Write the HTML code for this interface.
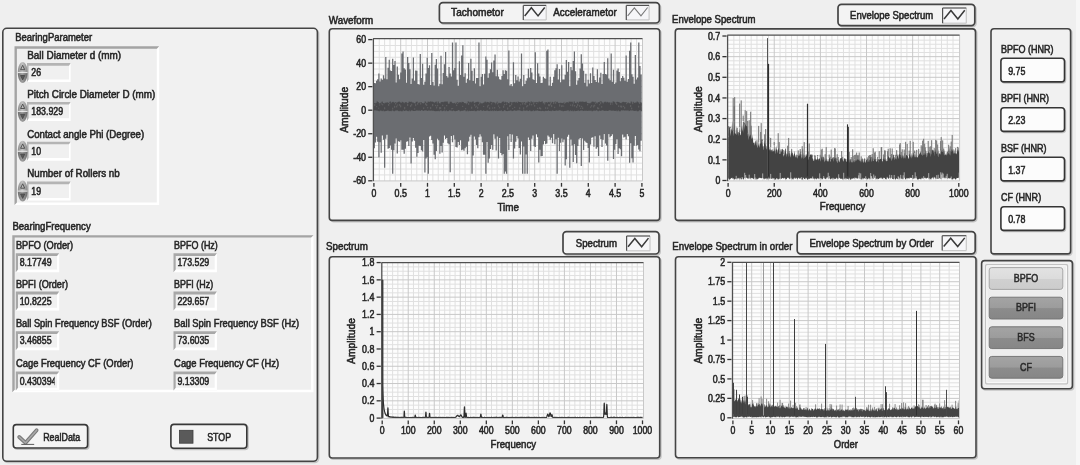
<!DOCTYPE html>
<html><head><meta charset="utf-8"><title>Bearing Analysis</title><style>html,body{margin:0;padding:0;background:#efefef;overflow:hidden;}svg{display:block;will-change:transform;font-family:"Liberation Sans",sans-serif;}</style></head><body>
<svg width="1080" height="465" viewBox="0 0 1080 465" font-family="Liberation Sans, sans-serif">
<rect x="0.00" y="0.00" width="1080.00" height="465.00" rx="0" fill="#efefef" />
<defs><linearGradient id="spu" x1="0" y1="0" x2="1" y2="0"><stop offset="0" stop-color="#8c8c8c"/><stop offset="0.45" stop-color="#c4c4c4"/><stop offset="1" stop-color="#8a8a8a"/></linearGradient><linearGradient id="spd" x1="0" y1="0" x2="1" y2="0"><stop offset="0" stop-color="#6e6e6e"/><stop offset="0.45" stop-color="#a0a0a0"/><stop offset="1" stop-color="#6a6a6a"/></linearGradient></defs>
<rect x="4.00" y="29.50" width="314.60" height="433.00" rx="4" fill="none" stroke="rgba(0,0,0,0.18)" stroke-width="1.6" />
<rect x="2.80" y="28.30" width="314.60" height="433.00" rx="4" fill="#f1f1f1" stroke="#444444" stroke-width="1.6" />
<text x="15.20" y="40.50" font-size="10.5" textLength="77.00" lengthAdjust="spacingAndGlyphs" fill="#262626" stroke="#262626" stroke-width="0.55" >BearingParameter</text>
<rect x="14.50" y="46.30" width="144.70" height="158.70" rx="0" fill="#efefef" />
<path d="M159.20,46.30 L159.20,205.00 L14.50,205.00 L16.90,202.60 L156.80,202.60 L156.80,48.70 Z" fill="#ffffff"/>
<path d="M14.50,205.00 L14.50,46.30 L159.20,46.30 L156.80,48.70 L16.90,48.70 L16.90,202.60 Z" fill="#a4a4a4"/>
<text x="27.20" y="58.90" font-size="10.5" textLength="94.00" lengthAdjust="spacingAndGlyphs" fill="#262626" stroke="#262626" stroke-width="0.55" >Ball Diameter d (mm)</text>
<rect x="27.00" y="63.10" width="43.60" height="19.00" rx="0" fill="#f0f0f0" />
<path d="M70.60,63.10 L70.60,82.10 L27.00,82.10 L28.60,79.50 L69.00,79.50 L69.00,65.70 Z" fill="#ffffff"/>
<path d="M27.00,82.10 L27.00,63.10 L70.60,63.10 L69.00,65.70 L28.60,65.70 L28.60,79.50 Z" fill="#b4b4b4"/>
<g transform="translate(17.8,62.10)"><path d="M0,10.3 C0,4.5 2.2,0 4.85,0 C7.5,0 9.7,4.5 9.7,10.3 Z" fill="url(#spu)"/><path d="M0,10.7 C0,16.5 2.2,21 4.85,21 C7.5,21 9.7,16.5 9.7,10.7 Z" fill="url(#spd)"/><path d="M4.85,3.2 L6.9,7.6 L2.8,7.6 Z" fill="none" stroke="#4a4a4a" stroke-width="0.9"/><path d="M4.85,17.8 L6.9,13.4 L2.8,13.4 Z" fill="#5a5a5a" stroke="#4a4a4a" stroke-width="0.9"/><line x1="0" y1="10.5" x2="9.7" y2="10.5" stroke="#f8f8f8" stroke-width="0.8"/></g>
<text x="31.30" y="76.40" font-size="10.5" textLength="9.75" lengthAdjust="spacingAndGlyphs" fill="#262626" stroke="#262626" stroke-width="0.55" >26</text>
<text x="27.20" y="97.70" font-size="10.5" textLength="128.00" lengthAdjust="spacingAndGlyphs" fill="#262626" stroke="#262626" stroke-width="0.55" >Pitch Circle Diameter D (mm)</text>
<rect x="27.00" y="101.90" width="43.60" height="19.00" rx="0" fill="#f0f0f0" />
<path d="M70.60,101.90 L70.60,120.90 L27.00,120.90 L28.60,118.30 L69.00,118.30 L69.00,104.50 Z" fill="#ffffff"/>
<path d="M27.00,120.90 L27.00,101.90 L70.60,101.90 L69.00,104.50 L28.60,104.50 L28.60,118.30 Z" fill="#b4b4b4"/>
<g transform="translate(17.8,100.90)"><path d="M0,10.3 C0,4.5 2.2,0 4.85,0 C7.5,0 9.7,4.5 9.7,10.3 Z" fill="url(#spu)"/><path d="M0,10.7 C0,16.5 2.2,21 4.85,21 C7.5,21 9.7,16.5 9.7,10.7 Z" fill="url(#spd)"/><path d="M4.85,3.2 L6.9,7.6 L2.8,7.6 Z" fill="none" stroke="#4a4a4a" stroke-width="0.9"/><path d="M4.85,17.8 L6.9,13.4 L2.8,13.4 Z" fill="#5a5a5a" stroke="#4a4a4a" stroke-width="0.9"/><line x1="0" y1="10.5" x2="9.7" y2="10.5" stroke="#f8f8f8" stroke-width="0.8"/></g>
<text x="31.30" y="115.20" font-size="10.5" textLength="31.88" lengthAdjust="spacingAndGlyphs" fill="#262626" stroke="#262626" stroke-width="0.55" >183.929</text>
<text x="27.20" y="137.50" font-size="10.5" textLength="117.00" lengthAdjust="spacingAndGlyphs" fill="#262626" stroke="#262626" stroke-width="0.55" >Contact angle Phi (Degree)</text>
<rect x="27.00" y="141.70" width="43.60" height="19.00" rx="0" fill="#f0f0f0" />
<path d="M70.60,141.70 L70.60,160.70 L27.00,160.70 L28.60,158.10 L69.00,158.10 L69.00,144.30 Z" fill="#ffffff"/>
<path d="M27.00,160.70 L27.00,141.70 L70.60,141.70 L69.00,144.30 L28.60,144.30 L28.60,158.10 Z" fill="#b4b4b4"/>
<g transform="translate(17.8,140.70)"><path d="M0,10.3 C0,4.5 2.2,0 4.85,0 C7.5,0 9.7,4.5 9.7,10.3 Z" fill="url(#spu)"/><path d="M0,10.7 C0,16.5 2.2,21 4.85,21 C7.5,21 9.7,16.5 9.7,10.7 Z" fill="url(#spd)"/><path d="M4.85,3.2 L6.9,7.6 L2.8,7.6 Z" fill="none" stroke="#4a4a4a" stroke-width="0.9"/><path d="M4.85,17.8 L6.9,13.4 L2.8,13.4 Z" fill="#5a5a5a" stroke="#4a4a4a" stroke-width="0.9"/><line x1="0" y1="10.5" x2="9.7" y2="10.5" stroke="#f8f8f8" stroke-width="0.8"/></g>
<text x="31.30" y="155.00" font-size="10.5" textLength="9.75" lengthAdjust="spacingAndGlyphs" fill="#262626" stroke="#262626" stroke-width="0.55" >10</text>
<text x="27.20" y="177.40" font-size="10.5" textLength="92.50" lengthAdjust="spacingAndGlyphs" fill="#262626" stroke="#262626" stroke-width="0.55" >Number of Rollers nb</text>
<rect x="27.00" y="181.60" width="43.60" height="19.00" rx="0" fill="#f0f0f0" />
<path d="M70.60,181.60 L70.60,200.60 L27.00,200.60 L28.60,198.00 L69.00,198.00 L69.00,184.20 Z" fill="#ffffff"/>
<path d="M27.00,200.60 L27.00,181.60 L70.60,181.60 L69.00,184.20 L28.60,184.20 L28.60,198.00 Z" fill="#b4b4b4"/>
<g transform="translate(17.8,180.60)"><path d="M0,10.3 C0,4.5 2.2,0 4.85,0 C7.5,0 9.7,4.5 9.7,10.3 Z" fill="url(#spu)"/><path d="M0,10.7 C0,16.5 2.2,21 4.85,21 C7.5,21 9.7,16.5 9.7,10.7 Z" fill="url(#spd)"/><path d="M4.85,3.2 L6.9,7.6 L2.8,7.6 Z" fill="none" stroke="#4a4a4a" stroke-width="0.9"/><path d="M4.85,17.8 L6.9,13.4 L2.8,13.4 Z" fill="#5a5a5a" stroke="#4a4a4a" stroke-width="0.9"/><line x1="0" y1="10.5" x2="9.7" y2="10.5" stroke="#f8f8f8" stroke-width="0.8"/></g>
<text x="31.30" y="194.90" font-size="10.5" textLength="9.75" lengthAdjust="spacingAndGlyphs" fill="#262626" stroke="#262626" stroke-width="0.55" >19</text>
<text x="12.40" y="229.60" font-size="10.5" textLength="78.30" lengthAdjust="spacingAndGlyphs" fill="#262626" stroke="#262626" stroke-width="0.55" >BearingFrequency</text>
<rect x="12.30" y="235.20" width="301.20" height="157.00" rx="0" fill="#efefef" />
<path d="M313.50,235.20 L313.50,392.20 L12.30,392.20 L14.70,389.80 L311.10,389.80 L311.10,237.60 Z" fill="#ffffff"/>
<path d="M12.30,392.20 L12.30,235.20 L313.50,235.20 L311.10,237.60 L14.70,237.60 L14.70,389.80 Z" fill="#a4a4a4"/>
<text x="15.90" y="249.10" font-size="10.5" textLength="57.30" lengthAdjust="spacingAndGlyphs" fill="#262626" stroke="#262626" stroke-width="0.55" >BPFO (Order)</text>
<text x="174.10" y="249.10" font-size="10.5" textLength="43.70" lengthAdjust="spacingAndGlyphs" fill="#262626" stroke="#262626" stroke-width="0.55" >BPFO (Hz)</text>
<rect x="15.80" y="253.20" width="43.40" height="19.00" rx="0" fill="#f1f1f1" />
<path d="M59.20,253.20 L59.20,272.20 L15.80,272.20 L18.00,269.40 L57.00,269.40 L57.00,256.00 Z" fill="#ffffff"/>
<path d="M15.80,272.20 L15.80,253.20 L59.20,253.20 L57.00,256.00 L18.00,256.00 L18.00,269.40 Z" fill="#a8a8a8"/>
<text x="19.70" y="266.20" font-size="10.5" textLength="31.88" lengthAdjust="spacingAndGlyphs" fill="#262626" stroke="#262626" stroke-width="0.55" >8.17749</text>
<rect x="173.50" y="253.20" width="43.40" height="19.00" rx="0" fill="#f1f1f1" />
<path d="M216.90,253.20 L216.90,272.20 L173.50,272.20 L175.70,269.40 L214.70,269.40 L214.70,256.00 Z" fill="#ffffff"/>
<path d="M173.50,272.20 L173.50,253.20 L216.90,253.20 L214.70,256.00 L175.70,256.00 L175.70,269.40 Z" fill="#a8a8a8"/>
<text x="177.40" y="266.20" font-size="10.5" textLength="31.88" lengthAdjust="spacingAndGlyphs" fill="#262626" stroke="#262626" stroke-width="0.55" >173.529</text>
<text x="15.90" y="287.50" font-size="10.5" textLength="52.10" lengthAdjust="spacingAndGlyphs" fill="#262626" stroke="#262626" stroke-width="0.55" >BPFI (Order)</text>
<text x="174.10" y="287.50" font-size="10.5" textLength="39.00" lengthAdjust="spacingAndGlyphs" fill="#262626" stroke="#262626" stroke-width="0.55" >BPFI (Hz)</text>
<rect x="15.80" y="291.60" width="43.40" height="19.00" rx="0" fill="#f1f1f1" />
<path d="M59.20,291.60 L59.20,310.60 L15.80,310.60 L18.00,307.80 L57.00,307.80 L57.00,294.40 Z" fill="#ffffff"/>
<path d="M15.80,310.60 L15.80,291.60 L59.20,291.60 L57.00,294.40 L18.00,294.40 L18.00,307.80 Z" fill="#a8a8a8"/>
<text x="19.70" y="304.60" font-size="10.5" textLength="31.88" lengthAdjust="spacingAndGlyphs" fill="#262626" stroke="#262626" stroke-width="0.55" >10.8225</text>
<rect x="173.50" y="291.60" width="43.40" height="19.00" rx="0" fill="#f1f1f1" />
<path d="M216.90,291.60 L216.90,310.60 L173.50,310.60 L175.70,307.80 L214.70,307.80 L214.70,294.40 Z" fill="#ffffff"/>
<path d="M173.50,310.60 L173.50,291.60 L216.90,291.60 L214.70,294.40 L175.70,294.40 L175.70,307.80 Z" fill="#a8a8a8"/>
<text x="177.40" y="304.60" font-size="10.5" textLength="31.88" lengthAdjust="spacingAndGlyphs" fill="#262626" stroke="#262626" stroke-width="0.55" >229.657</text>
<text x="15.90" y="327.10" font-size="10.5" textLength="135.90" lengthAdjust="spacingAndGlyphs" fill="#262626" stroke="#262626" stroke-width="0.55" >Ball Spin Frequency BSF (Order)</text>
<text x="174.10" y="327.10" font-size="10.5" textLength="125.00" lengthAdjust="spacingAndGlyphs" fill="#262626" stroke="#262626" stroke-width="0.55" >Ball Spin Frequency BSF (Hz)</text>
<rect x="15.80" y="331.20" width="43.40" height="19.00" rx="0" fill="#f1f1f1" />
<path d="M59.20,331.20 L59.20,350.20 L15.80,350.20 L18.00,347.40 L57.00,347.40 L57.00,334.00 Z" fill="#ffffff"/>
<path d="M15.80,350.20 L15.80,331.20 L59.20,331.20 L57.00,334.00 L18.00,334.00 L18.00,347.40 Z" fill="#a8a8a8"/>
<text x="19.70" y="344.20" font-size="10.5" textLength="31.88" lengthAdjust="spacingAndGlyphs" fill="#262626" stroke="#262626" stroke-width="0.55" >3.46855</text>
<rect x="173.50" y="331.20" width="43.40" height="19.00" rx="0" fill="#f1f1f1" />
<path d="M216.90,331.20 L216.90,350.20 L173.50,350.20 L175.70,347.40 L214.70,347.40 L214.70,334.00 Z" fill="#ffffff"/>
<path d="M173.50,350.20 L173.50,331.20 L216.90,331.20 L214.70,334.00 L175.70,334.00 L175.70,347.40 Z" fill="#a8a8a8"/>
<text x="177.40" y="344.20" font-size="10.5" textLength="31.88" lengthAdjust="spacingAndGlyphs" fill="#262626" stroke="#262626" stroke-width="0.55" >73.6035</text>
<text x="15.90" y="367.40" font-size="10.5" textLength="117.60" lengthAdjust="spacingAndGlyphs" fill="#262626" stroke="#262626" stroke-width="0.55" >Cage Frequency CF (Order)</text>
<text x="174.10" y="367.40" font-size="10.5" textLength="105.00" lengthAdjust="spacingAndGlyphs" fill="#262626" stroke="#262626" stroke-width="0.55" >Cage Frequency CF (Hz)</text>
<rect x="15.80" y="371.50" width="43.40" height="19.00" rx="0" fill="#f1f1f1" />
<path d="M59.20,371.50 L59.20,390.50 L15.80,390.50 L18.00,387.70 L57.00,387.70 L57.00,374.30 Z" fill="#ffffff"/>
<path d="M15.80,390.50 L15.80,371.50 L59.20,371.50 L57.00,374.30 L18.00,374.30 L18.00,387.70 Z" fill="#a8a8a8"/>
<clipPath id="cpc"><rect x="18" y="0" width="36.6" height="465"/></clipPath>
<text x="19.70" y="384.50" font-size="10.5" textLength="36.76" lengthAdjust="spacingAndGlyphs" fill="#262626" stroke="#262626" stroke-width="0.55" clip-path="url(#cpc)">0.430394</text>
<rect x="173.50" y="371.50" width="43.40" height="19.00" rx="0" fill="#f1f1f1" />
<path d="M216.90,371.50 L216.90,390.50 L173.50,390.50 L175.70,387.70 L214.70,387.70 L214.70,374.30 Z" fill="#ffffff"/>
<path d="M173.50,390.50 L173.50,371.50 L216.90,371.50 L214.70,374.30 L175.70,374.30 L175.70,387.70 Z" fill="#a8a8a8"/>
<text x="177.40" y="384.50" font-size="10.5" textLength="31.88" lengthAdjust="spacingAndGlyphs" fill="#262626" stroke="#262626" stroke-width="0.55" >9.13309</text>
<rect x="14.50" y="425.80" width="74.30" height="23.40" rx="3" fill="none" stroke="rgba(0,0,0,0.2)" stroke-width="1.6" />
<rect x="13.30" y="424.60" width="74.30" height="23.40" rx="3" fill="#f4f4f4" stroke="#383838" stroke-width="1.6" />
<path d="M19.2,437.0 L25.6,442.8 L36.6,430.2" fill="none" stroke="#7a7a7a" stroke-width="3.8" stroke-linecap="round" stroke-linejoin="round"/>
<path d="M19.2,437.0 L25.6,442.8 L36.6,430.2" fill="none" stroke="#a8a8a8" stroke-width="1.6" stroke-linecap="round" stroke-linejoin="round"/>
<path d="M21.3,444.4 L34.2,444.4" stroke="#5a5a5a" stroke-width="1"/>
<text x="43.20" y="440.90" font-size="10.5" textLength="37.10" lengthAdjust="spacingAndGlyphs" fill="#262626" stroke="#262626" stroke-width="0.55" >RealData</text>
<rect x="172.10" y="425.60" width="75.90" height="23.80" rx="3" fill="none" stroke="rgba(0,0,0,0.2)" stroke-width="1.6" />
<rect x="170.90" y="424.40" width="75.90" height="23.80" rx="3" fill="#f4f4f4" stroke="#383838" stroke-width="1.6" />
<rect x="179.40" y="430.30" width="13.60" height="12.90" rx="0" fill="#5a5a5a" stroke="#3e3e3e" stroke-width="0.8" />
<text x="207.20" y="440.90" font-size="10.5" textLength="23.90" lengthAdjust="spacingAndGlyphs" fill="#262626" stroke="#262626" stroke-width="0.55" >STOP</text>
<rect x="330.50" y="30.00" width="330.40" height="191.60" rx="3" fill="none" stroke="rgba(0,0,0,0.18)" stroke-width="1.6" />
<rect x="329.30" y="28.80" width="330.40" height="191.60" rx="3" fill="#f2f2f2" stroke="#444444" stroke-width="1.6" />
<text x="328.80" y="23.80" font-size="10.5" textLength="44.40" lengthAdjust="spacingAndGlyphs" fill="#262626" stroke="#262626" stroke-width="0.55" >Waveform</text>
<rect x="440.60" y="3.80" width="220.00" height="20.40" rx="3.5" fill="none" stroke="rgba(0,0,0,0.18)" stroke-width="1.6" />
<rect x="439.40" y="2.60" width="220.00" height="20.40" rx="3.5" fill="#f3f3f3" stroke="#444444" stroke-width="1.7" />
<text x="451.10" y="15.90" font-size="10.5" textLength="52.70" lengthAdjust="spacingAndGlyphs" fill="#262626" stroke="#262626" stroke-width="0.55" >Tachometor</text>
<rect x="523.30" y="5.40" width="22.90" height="14.50" rx="0" fill="#f6f6f8" />
<line x1="523.30" y1="19.90" x2="546.20" y2="19.90" stroke="#c8c8c8" stroke-width="1.2" />
<line x1="546.20" y1="5.40" x2="546.20" y2="19.90" stroke="#c8c8c8" stroke-width="1.2" />
<line x1="523.30" y1="5.40" x2="546.20" y2="5.40" stroke="#505050" stroke-width="1.2" />
<line x1="523.30" y1="5.40" x2="523.30" y2="19.90" stroke="#505050" stroke-width="1.2" />
<path d="M524.69,15.90 L531.36,7.80 L538.04,15.90 L544.71,7.50" fill="none" stroke="#3a3a3a" stroke-width="1.5" stroke-linejoin="miter"/>
<text x="553.30" y="15.90" font-size="10.5" textLength="63.40" lengthAdjust="spacingAndGlyphs" fill="#262626" stroke="#262626" stroke-width="0.55" >Accelerametor</text>
<rect x="626.30" y="5.40" width="22.80" height="14.50" rx="0" fill="#f6f6f8" />
<line x1="626.30" y1="19.90" x2="649.10" y2="19.90" stroke="#c8c8c8" stroke-width="1.2" />
<line x1="649.10" y1="5.40" x2="649.10" y2="19.90" stroke="#c8c8c8" stroke-width="1.2" />
<line x1="626.30" y1="5.40" x2="649.10" y2="5.40" stroke="#505050" stroke-width="1.2" />
<line x1="626.30" y1="5.40" x2="626.30" y2="19.90" stroke="#505050" stroke-width="1.2" />
<path d="M627.69,15.90 L634.33,7.80 L640.97,15.90 L647.61,7.50" fill="none" stroke="#7a7a7a" stroke-width="1.1" stroke-linejoin="miter"/>
<rect x="373.40" y="38.60" width="269.10" height="142.30" rx="0" fill="#fdfdfd" />
<path d="M379.26,38.60V180.90M384.62,38.60V180.90M389.98,38.60V180.90M395.34,38.60V180.90M406.06,38.60V180.90M411.42,38.60V180.90M416.78,38.60V180.90M422.14,38.60V180.90M432.86,38.60V180.90M438.22,38.60V180.90M443.58,38.60V180.90M448.94,38.60V180.90M459.66,38.60V180.90M465.02,38.60V180.90M470.38,38.60V180.90M475.74,38.60V180.90M486.46,38.60V180.90M491.82,38.60V180.90M497.18,38.60V180.90M502.54,38.60V180.90M513.26,38.60V180.90M518.62,38.60V180.90M523.98,38.60V180.90M529.34,38.60V180.90M540.06,38.60V180.90M545.42,38.60V180.90M550.78,38.60V180.90M556.14,38.60V180.90M566.86,38.60V180.90M572.22,38.60V180.90M577.58,38.60V180.90M582.94,38.60V180.90M593.66,38.60V180.90M599.02,38.60V180.90M604.38,38.60V180.90M609.74,38.60V180.90M620.46,38.60V180.90M625.82,38.60V180.90M631.18,38.60V180.90M636.54,38.60V180.90M373.40,174.91H642.50M373.40,169.03H642.50M373.40,163.14H642.50M373.40,151.38H642.50M373.40,145.50H642.50M373.40,139.61H642.50M373.40,127.85H642.50M373.40,121.97H642.50M373.40,116.08H642.50M373.40,104.32H642.50M373.40,98.44H642.50M373.40,92.55H642.50M373.40,80.79H642.50M373.40,74.91H642.50M373.40,69.02H642.50M373.40,57.26H642.50M373.40,51.38H642.50M373.40,45.49H642.50" stroke="#e0e0e0" stroke-width="1" fill="none"/>
<path d="M400.70,38.60V180.90M427.50,38.60V180.90M454.30,38.60V180.90M481.10,38.60V180.90M507.90,38.60V180.90M534.70,38.60V180.90M561.50,38.60V180.90M588.30,38.60V180.90M615.10,38.60V180.90M373.40,63.14H642.50M373.40,86.67H642.50M373.40,110.20H642.50M373.40,133.73H642.50M373.40,157.26H642.50" stroke="#c8c8c8" stroke-width="1" fill="none"/>
<path d="M374.30,82.91V148.17M375.45,83.29V142.51M376.60,80.86V136.67M377.75,79.22V141.65M378.90,73.59V157.27M380.05,81.61V142.32M381.20,78.48V152.74M382.35,79.71V135.42M383.50,75.20V139.79M384.65,78.62V167.65M385.80,57.05V138.84M386.95,79.36V134.72M388.10,67.74V148.75M389.25,59.76V148.09M390.40,70.61V145.42M391.55,70.99V149.82M392.70,58.73V173.73M393.85,65.10V150.28M395.00,60.89V143.56M396.15,82.50V138.44M397.30,66.45V153.38M398.45,74.72V141.33M399.60,79.14V141.76M400.75,72.47V140.32M401.90,53.41V149.64M403.05,51.42V149.79M404.20,68.13V153.87M405.35,69.50V148.83M406.50,82.73V141.86M407.65,57.10V141.29M408.80,63.07V146.10M409.95,69.25V137.60M411.10,83.92V163.44M412.25,78.52V141.49M413.40,57.60V138.00M414.55,80.72V140.86M415.70,70.54V147.70M416.85,70.66V156.72M418.00,84.08V152.94M419.15,84.58V145.82M420.30,53.97V145.89M421.45,78.02V150.21M422.60,63.84V151.57M423.75,84.77V140.09M424.90,81.73V172.46M426.05,73.58V158.51M427.20,57.67V157.19M428.35,68.11V173.73M429.50,65.31V136.60M430.65,84.98V135.70M431.80,52.89V139.88M432.95,82.01V143.44M434.10,85.51V154.80M435.25,64.74V159.30M436.40,59.08V150.94M437.55,68.55V138.71M438.70,86.14V140.30M439.85,83.76V153.74M441.00,55.69V145.90M442.15,84.23V152.45M443.30,73.10V142.71M444.45,64.14V135.59M445.60,51.96V138.94M446.75,76.01V138.11M447.90,77.58V143.28M449.05,67.06V144.21M450.20,73.49V172.19M451.35,76.53V135.99M452.50,42.55V142.23M453.65,70.19V135.15M454.80,68.12V139.51M455.95,42.55V147.10M457.10,79.86V147.48M458.25,85.68V142.03M459.40,61.18V144.88M460.55,75.12V140.28M461.70,55.49V150.21M462.85,45.27V149.44M464.00,76.75V150.81M465.15,73.33V148.26M466.30,82.87V146.84M467.45,78.86V154.22M468.60,62.88V141.52M469.75,80.28V136.74M470.90,58.78V134.68M472.05,70.73V173.73M473.20,81.06V155.48M474.35,68.24V136.54M475.50,83.47V139.44M476.65,78.08V145.08M477.80,77.90V148.16M478.95,42.55V137.15M480.10,86.25V134.31M481.25,76.82V136.44M482.40,73.93V142.30M483.55,84.57V154.69M484.70,73.86V154.80M485.85,56.49V173.73M487.00,59.79V141.93M488.15,77.84V162.63M489.30,73.15V158.44M490.45,69.25V149.00M491.60,62.47V144.88M492.75,72.34V149.76M493.90,60.38V134.32M495.05,54.62V138.84M496.20,76.36V150.45M497.35,69.70V136.55M498.50,76.51V158.52M499.65,79.33V137.93M500.80,79.77V153.11M501.95,76.04V155.24M503.10,70.32V154.03M504.25,73.92V173.73M505.40,70.26V171.47M506.55,70.64V173.73M507.70,79.17V136.21M508.85,50.52V149.89M510.00,85.44V133.94M511.15,84.07V142.02M512.30,86.20V134.52M513.45,62.19V158.57M514.60,83.16V148.58M515.75,74.89V141.71M516.90,80.17V135.93M518.05,76.43V138.47M519.20,81.42V148.00M520.35,78.79V154.48M521.50,53.48V141.44M522.65,86.32V173.73M523.80,75.09V146.61M524.95,83.90V173.73M526.10,80.77V154.43M527.25,78.30V173.73M528.40,68.83V137.56M529.55,77.53V140.09M530.70,68.08V150.93M531.85,72.53V138.74M533.00,79.20V135.39M534.15,79.99V146.34M535.30,52.27V146.88M536.45,82.94V134.29M537.60,63.29V137.26M538.75,73.44V162.46M539.90,76.56V149.66M541.05,82.92V156.30M542.20,82.71V155.96M543.35,76.64V144.44M544.50,78.27V141.08M545.65,78.69V143.99M546.80,50.64V143.54M547.95,49.40V135.53M549.10,85.58V136.85M550.25,76.73V139.63M551.40,86.11V137.87M552.55,82.65V143.35M553.70,76.71V134.06M554.85,70.36V144.14M556.00,68.16V139.26M557.15,64.36V173.73M558.30,79.54V137.76M559.45,68.89V150.96M560.60,82.17V142.67M561.75,65.37V138.40M562.90,79.57V142.16M564.05,79.41V139.61M565.20,74.79V165.59M566.35,59.93V159.30M567.50,71.82V136.82M568.65,62.07V134.80M569.80,86.13V167.70M570.95,67.01V139.51M572.10,70.27V145.39M573.25,61.01V162.11M574.40,51.52V144.30M575.55,71.15V154.98M576.70,84.69V163.20M577.85,80.61V146.03M579.00,78.10V139.30M580.15,68.44V137.98M581.30,54.19V166.09M582.45,63.54V138.41M583.60,70.65V150.04M584.75,82.84V140.66M585.90,73.70V142.33M587.05,86.42V142.89M588.20,79.85V147.88M589.35,83.55V162.41M590.50,73.31V144.54M591.65,83.04V137.80M592.80,67.49V137.28M593.95,75.96V146.66M595.10,80.12V136.24M596.25,81.94V148.65M597.40,69.25V147.22M598.55,82.57V155.94M599.70,77.45V135.44M600.85,72.76V139.06M602.00,84.05V147.05M603.15,74.03V139.79M604.30,61.96V134.10M605.45,74.09V143.39M606.60,74.43V145.58M607.75,58.20V160.67M608.90,78.41V133.98M610.05,80.37V137.17M611.20,53.53V135.91M612.35,81.83V134.30M613.50,69.80V158.93M614.65,84.06V149.65M615.80,82.45V143.90M616.95,70.43V139.17M618.10,68.39V153.94M619.25,71.97V148.21M620.40,81.36V149.29M621.55,78.00V156.20M622.70,75.92V134.50M623.85,77.73V137.45M625.00,80.82V136.67M626.15,55.54V139.45M627.30,81.77V134.11M628.45,79.09V136.34M629.60,50.67V162.72M630.75,42.55V143.24M631.90,74.14V158.32M633.05,76.70V162.58M634.20,83.70V145.71M635.35,54.90V136.04M636.50,79.59V145.86M637.65,77.57V145.06M638.80,42.55V149.57M639.95,65.97V151.24M641.10,74.38V140.74" stroke="#6b6d71" stroke-width="1.25" fill="none"/>
<path d="M374.20,103.12V110.38M375.20,103.39V110.29M376.20,102.96V110.51M377.20,101.41V110.57M378.20,102.09V110.89M379.20,103.49V111.22M380.20,103.18V110.53M381.20,102.58V110.66M382.20,101.60V111.10M383.20,103.01V110.49M384.20,103.45V111.26M385.20,102.74V111.13M386.20,102.74V111.00M387.20,102.26V110.57M388.20,103.06V110.52M389.20,102.49V111.10M390.20,101.51V110.97M391.20,103.18V111.15M392.20,102.14V110.23M393.20,101.84V110.79M394.20,102.93V111.25M395.20,102.13V110.60M396.20,102.75V110.50M397.20,102.55V110.16M398.20,101.94V110.97M399.20,101.58V111.21M400.20,102.37V110.78M401.20,102.99V111.19M402.20,101.84V111.24M403.20,102.33V110.15M404.20,103.19V111.02M405.20,102.21V110.66M406.20,102.14V110.30M407.20,103.12V110.89M408.20,102.86V111.20M409.20,101.61V110.34M410.20,101.98V111.25M411.20,101.71V110.38M412.20,102.51V110.39M413.20,102.54V110.99M414.20,103.27V110.99M415.20,103.41V110.86M416.20,101.91V110.44M417.20,101.70V110.42M418.20,102.93V110.61M419.20,102.57V110.33M420.20,102.39V110.95M421.20,102.13V110.12M422.20,103.03V110.22M423.20,103.46V110.95M424.20,102.99V110.38M425.20,101.49V110.38M426.20,102.80V110.22M427.20,102.80V110.98M428.20,101.57V110.52M429.20,102.03V110.48M430.20,101.42V110.71M431.20,101.72V110.44M432.20,101.68V110.74M433.20,101.96V110.59M434.20,102.84V111.01M435.20,102.18V111.17M436.20,101.57V111.09M437.20,103.44V111.13M438.20,101.53V110.85M439.20,103.19V111.23M440.20,103.41V110.44M441.20,102.15V110.44M442.20,101.93V111.18M443.20,102.24V110.83M444.20,101.76V110.29M445.20,101.61V111.18M446.20,101.66V110.18M447.20,101.49V111.13M448.20,103.06V111.13M449.20,103.42V110.26M450.20,101.77V110.51M451.20,101.75V110.52M452.20,102.89V111.14M453.20,103.29V110.37M454.20,103.06V110.88M455.20,102.60V111.23M456.20,102.95V110.93M457.20,101.98V110.83M458.20,102.81V110.12M459.20,102.43V110.26M460.20,102.18V111.22M461.20,102.62V110.75M462.20,101.86V110.85M463.20,102.00V110.63M464.20,103.04V110.24M465.20,103.30V110.29M466.20,103.13V111.26M467.20,103.07V110.36M468.20,101.42V111.25M469.20,102.45V110.68M470.20,101.81V111.04M471.20,102.45V110.85M472.20,101.73V110.95M473.20,101.50V110.93M474.20,103.04V110.44M475.20,102.44V111.13M476.20,102.15V111.16M477.20,101.83V110.44M478.20,101.83V110.52M479.20,102.74V110.79M480.20,102.66V110.21M481.20,103.31V110.21M482.20,103.44V111.02M483.20,102.94V110.20M484.20,102.43V110.81M485.20,101.62V110.98M486.20,102.52V110.63M487.20,101.90V110.37M488.20,102.13V110.85M489.20,102.80V111.08M490.20,101.71V110.48M491.20,101.92V111.06M492.20,102.56V110.35M493.20,102.27V111.11M494.20,102.52V110.22M495.20,102.99V111.03M496.20,102.86V110.43M497.20,101.71V111.08M498.20,103.16V110.97M499.20,102.80V110.64M500.20,103.15V110.87M501.20,103.09V110.11M502.20,101.95V111.14M503.20,101.46V111.14M504.20,102.68V110.10M505.20,101.81V110.40M506.20,102.57V111.03M507.20,102.14V111.13M508.20,103.06V110.80M509.20,103.42V110.79M510.20,101.82V110.44M511.20,102.43V110.51M512.20,102.51V111.09M513.20,102.22V110.78M514.20,101.92V110.19M515.20,102.58V110.58M516.20,101.91V110.76M517.20,103.01V110.41M518.20,101.63V110.35M519.20,102.01V110.26M520.20,102.05V110.50M521.20,102.53V110.89M522.20,102.16V111.14M523.20,102.61V110.34M524.20,101.98V110.52M525.20,102.96V110.76M526.20,102.53V110.53M527.20,102.63V110.46M528.20,101.52V111.04M529.20,102.11V110.34M530.20,102.67V110.68M531.20,101.43V111.21M532.20,102.34V111.07M533.20,101.84V110.15M534.20,102.39V111.14M535.20,102.28V110.62M536.20,101.97V110.66M537.20,102.14V110.28M538.20,102.39V110.78M539.20,101.49V111.01M540.20,102.04V110.80M541.20,101.88V111.11M542.20,101.41V110.84M543.20,103.37V110.94M544.20,102.65V111.24M545.20,102.61V110.76M546.20,102.02V110.84M547.20,102.93V110.99M548.20,101.92V110.15M549.20,102.38V111.00M550.20,101.80V110.80M551.20,103.04V111.11M552.20,101.85V110.31M553.20,102.15V110.71M554.20,102.30V110.99M555.20,101.45V110.84M556.20,102.14V110.30M557.20,101.77V110.71M558.20,102.87V110.61M559.20,103.23V110.28M560.20,102.74V110.26M561.20,102.93V110.82M562.20,102.96V110.76M563.20,103.10V111.26M564.20,101.97V110.93M565.20,102.98V110.90M566.20,102.48V110.75M567.20,102.14V110.48M568.20,102.73V110.17M569.20,101.68V111.19M570.20,101.74V110.19M571.20,101.83V111.09M572.20,101.73V110.51M573.20,103.46V111.25M574.20,101.48V110.49M575.20,102.96V111.14M576.20,103.19V110.98M577.20,101.85V110.85M578.20,103.17V110.20M579.20,101.82V111.06M580.20,101.61V110.54M581.20,101.84V110.47M582.20,101.60V110.33M583.20,101.72V111.03M584.20,102.03V110.63M585.20,101.92V110.74M586.20,101.62V110.61M587.20,102.93V110.98M588.20,103.20V110.68M589.20,103.37V110.71M590.20,103.19V110.68M591.20,102.44V110.62M592.20,101.67V111.25M593.20,101.71V110.71M594.20,102.30V110.48M595.20,101.71V110.82M596.20,102.61V110.13M597.20,103.33V110.51M598.20,102.15V111.23M599.20,102.20V110.46M600.20,101.52V110.87M601.20,101.41V110.66M602.20,102.47V110.20M603.20,103.42V110.41M604.20,102.17V110.86M605.20,101.67V110.83M606.20,102.49V110.64M607.20,101.86V111.01M608.20,102.57V110.76M609.20,102.32V110.29M610.20,102.87V110.29M611.20,102.64V110.67M612.20,102.92V110.66M613.20,101.43V110.49M614.20,101.82V110.87M615.20,102.82V110.91M616.20,102.25V110.51M617.20,101.83V111.21M618.20,101.96V110.22M619.20,102.34V111.20M620.20,102.86V111.25M621.20,103.09V110.17M622.20,102.20V110.48M623.20,101.82V110.19M624.20,102.20V110.53M625.20,102.17V110.44M626.20,102.23V110.46M627.20,103.04V110.47M628.20,102.52V110.36M629.20,103.28V111.05M630.20,103.42V110.35M631.20,101.56V110.49M632.20,102.71V110.29M633.20,101.83V110.60M634.20,102.95V110.90M635.20,102.60V110.88M636.20,102.58V110.50M637.20,101.52V111.19M638.20,102.29V111.21M639.20,103.24V110.31M640.20,102.28V110.18M641.20,102.55V111.24" stroke="#404042" stroke-width="0.9" fill="none"/>
<path d="M374.70,103.86V106.13M376.70,106.10V107.19M378.70,107.76V108.72M379.70,104.48V105.59M381.70,103.37V104.50M382.70,104.10V105.38M384.70,107.28V109.32M388.70,103.97V105.91M389.70,102.83V104.13M392.70,107.67V109.53M394.70,105.81V107.78M395.70,102.92V104.55M396.70,105.70V107.45M397.70,104.48V105.63M399.70,103.99V105.82M400.70,105.29V107.34M404.70,106.94V109.26M407.70,103.73V106.05M410.70,104.90V107.09M411.70,103.79V105.58M414.70,108.29V109.60M415.70,104.07V106.16M417.70,102.62V104.71M420.70,102.52V104.60M423.70,107.39V109.11M425.70,102.94V105.20M426.70,104.14V106.04M427.70,107.10V108.40M430.70,107.02V109.10M432.70,103.99V106.20M435.70,104.94V106.15M436.70,106.62V108.55M437.70,104.78V106.29M439.70,107.00V109.35M440.70,107.15V108.99M442.70,104.67V106.10M444.70,107.07V109.41M446.70,104.96V106.28M448.70,102.02V104.04M451.70,108.16V109.39M452.70,108.11V109.12M455.70,101.81V104.04M456.70,104.59V106.09M457.70,102.66V103.97M462.70,105.81V106.97M465.70,108.08V109.38M466.70,102.08V104.30M468.70,103.04V104.99M471.70,106.75V108.76M474.70,104.12V106.13M475.70,106.40V107.71M476.70,105.60V106.78M477.70,106.87V108.77M478.70,104.18V105.39M479.70,102.90V104.15M483.70,105.90V106.98M487.70,105.51V107.61M488.70,104.77V105.92M489.70,107.33V109.28M491.70,103.17V104.49M492.70,107.37V108.70M494.70,106.99V108.62M495.70,103.20V104.30M497.70,102.46V104.35M498.70,105.46V106.80M499.70,106.97V108.43M503.70,105.70V107.91M504.70,103.98V105.34M506.70,103.44V104.86M507.70,107.48V109.60M509.70,104.82V107.05M510.70,105.11V106.25M511.70,103.13V105.08M512.70,108.08V109.15M514.70,106.77V108.00M519.70,107.25V109.23M520.70,104.35V105.37M522.70,102.50V104.66M523.70,107.29V109.52M524.70,103.17V104.48M525.70,103.26V104.72M526.70,105.65V107.43M527.70,104.98V106.55M529.70,103.31V105.41M531.70,103.95V105.43M533.70,102.19V104.48M534.70,104.90V106.59M536.70,102.66V103.92M537.70,107.71V109.01M539.70,107.12V109.04M540.70,107.72V109.51M544.70,102.54V104.50M545.70,107.25V108.89M547.70,107.38V108.89M548.70,103.97V106.13M549.70,104.25V106.24M550.70,102.49V104.75M551.70,105.01V107.14M553.70,102.04V104.07M554.70,106.78V108.20M555.70,101.76V103.84M559.70,104.27V106.57M561.70,105.29V107.13M562.70,105.45V106.49M563.70,105.67V106.64M564.70,101.87V103.91M570.70,104.52V105.84M572.70,104.18V106.42M574.70,105.00V106.55M576.70,105.96V107.82M577.70,103.82V106.12M579.70,105.17V106.87M580.70,107.76V108.88M581.70,105.87V107.22M582.70,107.38V109.09M587.70,103.84V105.43M590.70,106.50V107.79M591.70,105.12V106.60M593.70,105.38V107.54M594.70,104.70V106.34M595.70,102.44V103.80M597.70,107.05V109.22M598.70,107.76V109.25M599.70,104.19V105.29M600.70,101.98V103.97M601.70,106.19V107.63M610.70,103.05V104.99M612.70,103.54V104.49M615.70,102.20V103.95M616.70,102.83V105.00M618.70,105.36V106.95M620.70,105.59V107.31M621.70,105.67V107.72M623.70,105.80V107.00M624.70,107.01V108.76M626.70,102.80V104.20M630.70,104.88V107.10M631.70,107.59V109.33M632.70,102.16V104.20M638.70,105.73V107.51M639.70,102.14V104.04M641.70,105.90V107.41" stroke="#6a6a6c" stroke-width="0.8" fill="none"/>
<line x1="373.40" y1="180.90" x2="642.50" y2="180.90" stroke="#c8c8c8" stroke-width="1" />
<line x1="642.50" y1="38.60" x2="642.50" y2="180.90" stroke="#c8c8c8" stroke-width="1" />
<line x1="373.10" y1="38.60" x2="642.50" y2="38.60" stroke="#505050" stroke-width="1.3" />
<line x1="373.40" y1="38.60" x2="373.40" y2="181.20" stroke="#505050" stroke-width="1.3" />
<line x1="368.20" y1="39.61" x2="372.40" y2="39.61" stroke="#333" stroke-width="1.3" />
<text x="356.35" y="43.26" font-size="10.5" textLength="9.75" lengthAdjust="spacingAndGlyphs" fill="#262626" stroke="#262626" stroke-width="0.55" >60</text>
<line x1="368.20" y1="63.14" x2="372.40" y2="63.14" stroke="#333" stroke-width="1.3" />
<text x="356.35" y="66.79" font-size="10.5" textLength="9.75" lengthAdjust="spacingAndGlyphs" fill="#262626" stroke="#262626" stroke-width="0.55" >40</text>
<line x1="368.20" y1="86.67" x2="372.40" y2="86.67" stroke="#333" stroke-width="1.3" />
<text x="356.35" y="90.32" font-size="10.5" textLength="9.75" lengthAdjust="spacingAndGlyphs" fill="#262626" stroke="#262626" stroke-width="0.55" >20</text>
<line x1="368.20" y1="110.20" x2="372.40" y2="110.20" stroke="#333" stroke-width="1.3" />
<text x="361.22" y="113.85" font-size="10.5" textLength="4.88" lengthAdjust="spacingAndGlyphs" fill="#262626" stroke="#262626" stroke-width="0.55" >0</text>
<line x1="368.20" y1="133.73" x2="372.40" y2="133.73" stroke="#333" stroke-width="1.3" />
<text x="353.20" y="137.38" font-size="10.5" textLength="12.90" lengthAdjust="spacingAndGlyphs" fill="#262626" stroke="#262626" stroke-width="0.55" >-20</text>
<line x1="368.20" y1="157.26" x2="372.40" y2="157.26" stroke="#333" stroke-width="1.3" />
<text x="353.20" y="160.91" font-size="10.5" textLength="12.90" lengthAdjust="spacingAndGlyphs" fill="#262626" stroke="#262626" stroke-width="0.55" >-40</text>
<line x1="368.20" y1="180.79" x2="372.40" y2="180.79" stroke="#333" stroke-width="1.3" />
<text x="353.20" y="184.44" font-size="10.5" textLength="12.90" lengthAdjust="spacingAndGlyphs" fill="#262626" stroke="#262626" stroke-width="0.55" >-60</text>
<line x1="373.90" y1="182.90" x2="373.90" y2="186.70" stroke="#333" stroke-width="1.3" />
<text x="371.46" y="196.90" font-size="10.5" textLength="4.88" lengthAdjust="spacingAndGlyphs" fill="#262626" stroke="#262626" stroke-width="0.55" >0</text>
<line x1="400.70" y1="182.90" x2="400.70" y2="186.70" stroke="#333" stroke-width="1.3" />
<text x="394.51" y="196.90" font-size="10.5" textLength="12.38" lengthAdjust="spacingAndGlyphs" fill="#262626" stroke="#262626" stroke-width="0.55" >0.5</text>
<line x1="427.50" y1="182.90" x2="427.50" y2="186.70" stroke="#333" stroke-width="1.3" />
<text x="425.06" y="196.90" font-size="10.5" textLength="4.88" lengthAdjust="spacingAndGlyphs" fill="#262626" stroke="#262626" stroke-width="0.55" >1</text>
<line x1="454.30" y1="182.90" x2="454.30" y2="186.70" stroke="#333" stroke-width="1.3" />
<text x="448.11" y="196.90" font-size="10.5" textLength="12.38" lengthAdjust="spacingAndGlyphs" fill="#262626" stroke="#262626" stroke-width="0.55" >1.5</text>
<line x1="481.10" y1="182.90" x2="481.10" y2="186.70" stroke="#333" stroke-width="1.3" />
<text x="478.66" y="196.90" font-size="10.5" textLength="4.88" lengthAdjust="spacingAndGlyphs" fill="#262626" stroke="#262626" stroke-width="0.55" >2</text>
<line x1="507.90" y1="182.90" x2="507.90" y2="186.70" stroke="#333" stroke-width="1.3" />
<text x="501.71" y="196.90" font-size="10.5" textLength="12.38" lengthAdjust="spacingAndGlyphs" fill="#262626" stroke="#262626" stroke-width="0.55" >2.5</text>
<line x1="534.70" y1="182.90" x2="534.70" y2="186.70" stroke="#333" stroke-width="1.3" />
<text x="532.26" y="196.90" font-size="10.5" textLength="4.88" lengthAdjust="spacingAndGlyphs" fill="#262626" stroke="#262626" stroke-width="0.55" >3</text>
<line x1="561.50" y1="182.90" x2="561.50" y2="186.70" stroke="#333" stroke-width="1.3" />
<text x="555.31" y="196.90" font-size="10.5" textLength="12.38" lengthAdjust="spacingAndGlyphs" fill="#262626" stroke="#262626" stroke-width="0.55" >3.5</text>
<line x1="588.30" y1="182.90" x2="588.30" y2="186.70" stroke="#333" stroke-width="1.3" />
<text x="585.86" y="196.90" font-size="10.5" textLength="4.88" lengthAdjust="spacingAndGlyphs" fill="#262626" stroke="#262626" stroke-width="0.55" >4</text>
<line x1="615.10" y1="182.90" x2="615.10" y2="186.70" stroke="#333" stroke-width="1.3" />
<text x="608.91" y="196.90" font-size="10.5" textLength="12.38" lengthAdjust="spacingAndGlyphs" fill="#262626" stroke="#262626" stroke-width="0.55" >4.5</text>
<line x1="641.90" y1="182.90" x2="641.90" y2="186.70" stroke="#333" stroke-width="1.3" />
<text x="639.46" y="196.90" font-size="10.5" textLength="4.88" lengthAdjust="spacingAndGlyphs" fill="#262626" stroke="#262626" stroke-width="0.55" >5</text>
<text x="497.40" y="210.50" font-size="10.5" textLength="21.50" lengthAdjust="spacingAndGlyphs" fill="#262626" stroke="#262626" stroke-width="0.55" >Time</text>
<g transform="translate(344.20,109.80) rotate(-90)">
<text x="-23.00" y="3.30" font-size="10.5" textLength="46.00" lengthAdjust="spacingAndGlyphs" fill="#262626" stroke="#262626" stroke-width="0.55" >Amplitude</text>
</g>
<rect x="676.50" y="30.10" width="300.20" height="191.50" rx="3" fill="none" stroke="rgba(0,0,0,0.18)" stroke-width="1.6" />
<rect x="675.30" y="28.90" width="300.20" height="191.50" rx="3" fill="#f2f2f2" stroke="#444444" stroke-width="1.6" />
<text x="672.00" y="22.80" font-size="10.5" textLength="83.60" lengthAdjust="spacingAndGlyphs" fill="#262626" stroke="#262626" stroke-width="0.55" >Envelope Spectrum</text>
<rect x="839.20" y="5.60" width="136.80" height="21.20" rx="3.5" fill="none" stroke="rgba(0,0,0,0.18)" stroke-width="1.6" />
<rect x="838.00" y="4.40" width="136.80" height="21.20" rx="3.5" fill="#f3f3f3" stroke="#444444" stroke-width="1.7" />
<text x="850.10" y="18.60" font-size="10.5" textLength="83.10" lengthAdjust="spacingAndGlyphs" fill="#262626" stroke="#262626" stroke-width="0.55" >Envelope Spectrum</text>
<rect x="942.60" y="8.00" width="23.70" height="15.20" rx="0" fill="#f6f6f8" />
<line x1="942.60" y1="23.20" x2="966.30" y2="23.20" stroke="#c8c8c8" stroke-width="1.2" />
<line x1="966.30" y1="8.00" x2="966.30" y2="23.20" stroke="#c8c8c8" stroke-width="1.2" />
<line x1="942.60" y1="8.00" x2="966.30" y2="8.00" stroke="#505050" stroke-width="1.2" />
<line x1="942.60" y1="8.00" x2="942.60" y2="23.20" stroke="#505050" stroke-width="1.2" />
<path d="M944.04,19.01 L950.95,10.52 L957.85,19.01 L964.75,10.20" fill="none" stroke="#3a3a3a" stroke-width="1.5" stroke-linejoin="miter"/>
<rect x="727.60" y="35.20" width="232.00" height="145.70" rx="0" fill="#fdfdfd" />
<path d="M733.87,35.20V180.90M739.63,35.20V180.90M745.40,35.20V180.90M751.17,35.20V180.90M756.94,35.20V180.90M762.71,35.20V180.90M768.47,35.20V180.90M780.01,35.20V180.90M785.77,35.20V180.90M791.54,35.20V180.90M797.31,35.20V180.90M803.08,35.20V180.90M808.85,35.20V180.90M814.61,35.20V180.90M826.15,35.20V180.90M831.91,35.20V180.90M837.68,35.20V180.90M843.45,35.20V180.90M849.22,35.20V180.90M854.99,35.20V180.90M860.75,35.20V180.90M872.29,35.20V180.90M878.06,35.20V180.90M883.82,35.20V180.90M889.59,35.20V180.90M895.36,35.20V180.90M901.12,35.20V180.90M906.89,35.20V180.90M918.43,35.20V180.90M924.20,35.20V180.90M929.96,35.20V180.90M935.73,35.20V180.90M941.50,35.20V180.90M947.26,35.20V180.90M953.03,35.20V180.90M727.60,176.37H959.60M727.60,172.24H959.60M727.60,168.12H959.60M727.60,163.99H959.60M727.60,155.73H959.60M727.60,151.60H959.60M727.60,147.48H959.60M727.60,143.35H959.60M727.60,135.09H959.60M727.60,130.96H959.60M727.60,126.84H959.60M727.60,122.71H959.60M727.60,114.45H959.60M727.60,110.32H959.60M727.60,106.20H959.60M727.60,102.07H959.60M727.60,93.81H959.60M727.60,89.68H959.60M727.60,85.56H959.60M727.60,81.43H959.60M727.60,73.17H959.60M727.60,69.04H959.60M727.60,64.92H959.60M727.60,60.79H959.60M727.60,52.53H959.60M727.60,48.40H959.60M727.60,44.28H959.60M727.60,40.15H959.60" stroke="#e0e0e0" stroke-width="1" fill="none"/>
<path d="M774.24,35.20V180.90M820.38,35.20V180.90M866.52,35.20V180.90M912.66,35.20V180.90M727.60,159.86H959.60M727.60,139.22H959.60M727.60,118.58H959.60M727.60,97.94H959.60M727.60,77.30H959.60M727.60,56.66H959.60" stroke="#c8c8c8" stroke-width="1" fill="none"/>
<path d="M728.70,135.70V126.08M729.20,129.26V127.07M730.20,127.94V126.73M730.70,137.36V135.95M732.70,132.49V130.49M733.20,130.90V98.02M734.20,120.89V106.14M734.70,132.52V97.10M735.20,135.21V133.36M737.20,135.31V127.81M738.20,137.59V132.19M739.70,127.15V103.58M741.20,132.00V100.36M743.20,120.98V115.56M743.70,134.86V121.76M744.70,124.30V122.79M745.20,125.26V110.19M746.70,127.20V111.09M747.70,132.84V120.90M749.20,137.53V120.17M750.20,135.95V134.82M750.70,135.51V111.76M751.20,139.18V125.74M752.20,140.78V138.15M758.70,142.47V125.91M760.70,145.31V131.99M761.20,143.54V123.12M762.20,141.06V139.24M763.20,151.08V146.29M764.70,142.13V134.34M765.70,146.77V129.03M768.70,143.63V137.05M770.20,152.72V149.86M770.70,147.15V137.90M771.20,153.08V150.20M774.20,145.30V142.05M776.70,151.02V149.44M778.20,147.51V133.20M779.20,152.53V142.12M783.20,154.04V149.93M786.20,156.23V153.66M787.70,153.19V145.70M788.20,158.35V152.80M788.70,154.58V137.94M789.20,154.40V151.02M790.20,158.90V156.70M791.70,155.24V149.09M797.20,159.70V154.98M797.70,159.27V157.66M798.20,155.76V150.41M800.20,155.29V149.05M800.70,153.27V151.61M802.20,155.58V146.20M802.70,158.61V149.24M804.20,158.68V142.10M804.70,159.19V155.31M806.20,155.56V154.42M808.20,160.96V151.44M809.20,156.07V143.44M812.20,156.79V154.68M814.20,162.19V159.73M814.70,157.42V155.21M815.20,161.37V155.68M817.70,156.07V155.00M818.70,162.01V159.28M820.20,157.54V154.75M821.20,159.40V149.58M822.20,159.77V148.70M822.70,161.37V156.83M823.20,161.08V157.26M825.20,159.49V154.16M826.20,162.35V147.09M829.20,158.43V154.50M830.20,159.91V156.61M831.20,158.56V149.60M833.20,162.81V157.14M833.70,161.99V157.61M834.70,160.55V148.05M835.20,158.92V148.52M836.20,163.08V161.91M837.20,160.02V154.21M838.20,161.92V157.00M841.70,158.88V151.05M842.70,160.92V156.81M843.70,163.22V160.81M845.70,161.49V159.03M847.70,158.91V156.10M849.20,163.70V151.73M850.70,162.15V159.25M851.20,163.68V157.01M852.70,163.13V149.30M853.20,161.55V155.78M853.70,163.26V160.52M854.70,159.19V154.96M855.70,161.29V154.68M856.70,161.48V152.56M857.70,159.77V155.25M858.20,161.06V155.29M858.70,161.09V159.22M859.20,161.94V152.52M860.20,163.73V160.74M861.20,163.54V156.35M862.20,163.23V158.68M864.70,162.92V158.64M867.20,159.47V157.39M867.70,163.40V159.04M868.70,163.11V155.83M869.20,162.65V160.02M869.70,158.47V155.07M870.70,158.54V154.94M871.70,162.80V156.95M872.20,161.59V154.01M872.70,159.63V157.40M873.20,159.70V148.24M873.70,162.40V161.17M874.70,159.92V152.62M875.20,158.06V151.66M875.70,161.69V158.54M876.70,163.12V161.59M877.70,160.58V156.89M878.20,163.74V159.02M878.70,161.02V159.89M879.20,158.18V151.16M881.20,158.28V147.29M881.70,160.35V147.18M882.70,163.60V161.07M883.70,157.88V154.48M884.70,156.82V150.31M885.20,159.46V150.61M885.70,161.63V159.51M886.20,162.33V160.71M887.70,159.49V151.22M888.20,157.97V148.72M889.70,160.13V157.93M890.20,156.08V148.25M891.20,162.25V160.99M891.70,157.33V153.96M892.20,159.03V148.45M893.70,156.53V154.85M894.20,160.42V157.07M894.70,161.14V158.58M895.20,159.46V158.05M895.70,159.80V154.79M896.70,156.02V150.13M898.20,160.46V158.68M899.70,155.66V144.55M900.20,155.77V143.04M901.20,159.69V151.97M901.70,158.59V155.52M902.20,158.84V149.29M903.20,160.36V155.77M904.20,159.47V149.50M904.70,157.67V153.31M905.70,158.37V141.81M907.20,156.75V143.93M909.20,155.75V150.59M910.20,157.14V140.80M913.20,153.65V141.83M914.20,158.70V157.44M914.70,152.88V150.53M916.70,157.17V149.89M918.70,153.56V148.97M921.20,155.66V145.28M922.20,155.69V146.47M922.70,157.28V140.63M923.70,154.31V138.77M924.70,151.65V143.66M925.20,156.10V147.34M927.20,157.15V152.90M927.70,155.62V153.34M928.20,153.65V140.88M929.20,150.83V146.77M930.70,157.99V146.30M931.20,155.17V149.89M931.70,154.74V140.20M933.70,153.95V150.39M934.20,152.94V148.08M934.70,157.49V151.66M935.70,150.55V139.84M936.70,154.57V140.49M937.20,153.51V151.75M937.70,155.50V144.44M940.70,150.46V141.10M941.20,150.66V137.09M942.70,151.22V140.36M943.70,153.90V148.51M947.70,156.03V151.85M948.70,152.28V144.69M950.20,156.77V146.25M951.20,153.14V141.55M952.20,152.18V134.95M955.70,154.26V148.17M957.70,148.30V146.87M958.20,153.41V147.75" stroke="#6e6e6e" stroke-width="1.0" fill="none"/>
<path d="M728.20,137.59 L728.70,134.70 L729.20,128.26 L729.70,127.51 L730.20,126.94 L730.70,136.36 L731.20,130.00 L731.70,128.85 L732.20,120.50 L732.70,131.49 L733.20,129.90 L733.70,136.34 L734.20,119.89 L734.70,131.52 L735.20,134.21 L735.70,133.98 L736.20,125.83 L736.70,134.95 L737.20,134.31 L737.70,129.95 L738.20,136.59 L738.70,131.91 L739.20,133.17 L739.70,126.15 L740.20,135.01 L740.70,135.22 L741.20,131.00 L741.70,125.74 L742.20,131.78 L742.70,126.71 L743.20,119.98 L743.70,133.86 L744.20,128.05 L744.70,123.30 L745.20,124.26 L745.70,124.91 L746.20,125.94 L746.70,126.20 L747.20,126.17 L747.70,131.84 L748.20,140.16 L748.70,131.78 L749.20,136.53 L749.70,136.38 L750.20,134.95 L750.70,134.51 L751.20,138.18 L751.70,138.74 L752.20,139.78 L752.70,134.21 L753.20,142.01 L753.70,143.21 L754.20,142.30 L754.70,145.75 L755.20,139.90 L755.70,141.77 L756.20,145.93 L756.70,140.18 L757.20,139.80 L757.70,148.20 L758.20,145.29 L758.70,141.47 L759.20,147.97 L759.70,143.91 L760.20,142.83 L760.70,144.31 L761.20,142.54 L761.70,138.99 L762.20,140.06 L762.70,144.39 L763.20,150.08 L763.70,149.46 L764.20,142.02 L764.70,141.13 L765.20,143.77 L765.70,145.77 L766.20,149.70 L766.70,145.97 L767.20,145.79 L767.70,148.12 L768.20,145.23 L768.70,142.63 L769.20,148.26 L769.70,149.63 L770.20,151.72 L770.70,146.15 L771.20,152.08 L771.70,149.04 L772.20,151.99 L772.70,148.43 L773.20,151.56 L773.70,150.89 L774.20,144.30 L774.70,151.75 L775.20,146.72 L775.70,154.41 L776.20,145.36 L776.70,150.02 L777.20,149.72 L777.70,153.38 L778.20,146.51 L778.70,148.22 L779.20,151.53 L779.70,154.01 L780.20,154.03 L780.70,148.60 L781.20,152.41 L781.70,148.93 L782.20,149.35 L782.70,148.62 L783.20,153.04 L783.70,156.71 L784.20,154.89 L784.70,151.29 L785.20,148.50 L785.70,148.86 L786.20,155.23 L786.70,156.67 L787.20,153.22 L787.70,152.19 L788.20,157.35 L788.70,153.58 L789.20,153.40 L789.70,153.20 L790.20,157.90 L790.70,154.81 L791.20,150.25 L791.70,154.24 L792.20,152.29 L792.70,153.37 L793.20,156.76 L793.70,154.87 L794.20,153.81 L794.70,150.49 L795.20,157.80 L795.70,155.88 L796.20,154.08 L796.70,156.93 L797.20,158.70 L797.70,158.27 L798.20,154.76 L798.70,156.49 L799.20,152.87 L799.70,156.02 L800.20,154.29 L800.70,152.27 L801.20,158.98 L801.70,154.31 L802.20,154.58 L802.70,157.61 L803.20,158.97 L803.70,152.71 L804.20,157.68 L804.70,158.19 L805.20,157.21 L805.70,156.13 L806.20,154.56 L806.70,156.27 L807.20,154.40 L807.70,159.89 L808.20,159.96 L808.70,158.84 L809.20,155.07 L809.70,157.16 L810.20,154.15 L810.70,154.69 L811.20,154.03 L811.70,155.26 L812.20,155.79 L812.70,158.17 L813.20,160.48 L813.70,160.93 L814.20,161.19 L814.70,156.42 L815.20,160.37 L815.70,158.28 L816.20,159.33 L816.70,160.26 L817.20,159.19 L817.70,155.07 L818.20,159.45 L818.70,161.01 L819.20,158.62 L819.70,158.58 L820.20,156.54 L820.70,161.69 L821.20,158.40 L821.70,156.20 L822.20,158.77 L822.70,160.37 L823.20,160.08 L823.70,156.02 L824.20,157.79 L824.70,162.52 L825.20,158.49 L825.70,160.40 L826.20,161.35 L826.70,157.89 L827.20,162.12 L827.70,160.10 L828.20,161.76 L828.70,160.00 L829.20,157.43 L829.70,158.27 L830.20,158.91 L830.70,162.25 L831.20,157.56 L831.70,159.42 L832.20,158.37 L832.70,157.61 L833.20,161.81 L833.70,160.99 L834.20,156.83 L834.70,159.55 L835.20,157.92 L835.70,157.45 L836.20,162.08 L836.70,156.95 L837.20,159.02 L837.70,163.26 L838.20,160.92 L838.70,159.79 L839.20,162.53 L839.70,160.86 L840.20,158.73 L840.70,158.11 L841.20,157.83 L841.70,157.88 L842.20,159.01 L842.70,159.92 L843.20,161.20 L843.70,162.22 L844.20,157.69 L844.70,158.74 L845.20,158.17 L845.70,160.49 L846.20,161.85 L846.70,161.43 L847.20,158.36 L847.70,157.91 L848.20,158.43 L848.70,161.04 L849.20,162.70 L849.70,159.44 L850.20,159.50 L850.70,161.15 L851.20,162.68 L851.70,161.57 L852.20,162.45 L852.70,162.13 L853.20,160.55 L853.70,162.26 L854.20,162.28 L854.70,158.19 L855.20,161.38 L855.70,160.29 L856.20,160.52 L856.70,160.48 L857.20,159.91 L857.70,158.77 L858.20,160.06 L858.70,160.09 L859.20,160.94 L859.70,160.08 L860.20,162.73 L860.70,160.32 L861.20,162.54 L861.70,158.63 L862.20,162.23 L862.70,157.33 L863.20,163.32 L863.70,161.06 L864.20,157.21 L864.70,161.92 L865.20,161.20 L865.70,163.25 L866.20,159.06 L866.70,160.52 L867.20,158.47 L867.70,162.40 L868.20,160.57 L868.70,162.11 L869.20,161.65 L869.70,157.47 L870.20,157.36 L870.70,157.54 L871.20,161.26 L871.70,161.80 L872.20,160.59 L872.70,158.63 L873.20,158.70 L873.70,161.40 L874.20,159.61 L874.70,158.92 L875.20,157.06 L875.70,160.69 L876.20,161.40 L876.70,162.12 L877.20,160.44 L877.70,159.58 L878.20,162.74 L878.70,160.02 L879.20,157.18 L879.70,159.88 L880.20,159.11 L880.70,158.74 L881.20,157.28 L881.70,159.35 L882.20,161.38 L882.70,162.60 L883.20,158.17 L883.70,156.88 L884.20,160.31 L884.70,155.82 L885.20,158.46 L885.70,160.63 L886.20,161.33 L886.70,161.35 L887.20,160.95 L887.70,158.49 L888.20,156.97 L888.70,156.11 L889.20,157.47 L889.70,159.13 L890.20,155.08 L890.70,157.19 L891.20,161.25 L891.70,156.33 L892.20,158.03 L892.70,159.38 L893.20,154.31 L893.70,155.53 L894.20,159.42 L894.70,160.14 L895.20,158.46 L895.70,158.80 L896.20,159.52 L896.70,155.02 L897.20,156.29 L897.70,153.48 L898.20,159.46 L898.70,155.10 L899.20,153.50 L899.70,154.66 L900.20,154.77 L900.70,155.16 L901.20,158.69 L901.70,157.59 L902.20,157.84 L902.70,154.57 L903.20,159.36 L903.70,157.02 L904.20,158.47 L904.70,156.67 L905.20,158.55 L905.70,157.37 L906.20,154.88 L906.70,154.95 L907.20,155.75 L907.70,156.08 L908.20,157.76 L908.70,159.25 L909.20,154.75 L909.70,153.54 L910.20,156.14 L910.70,157.40 L911.20,152.59 L911.70,158.63 L912.20,152.61 L912.70,157.45 L913.20,152.65 L913.70,152.73 L914.20,157.70 L914.70,151.88 L915.20,151.96 L915.70,157.14 L916.20,157.18 L916.70,156.17 L917.20,157.23 L917.70,157.62 L918.20,155.71 L918.70,152.56 L919.20,153.37 L919.70,154.77 L920.20,152.69 L920.70,151.25 L921.20,154.66 L921.70,154.67 L922.20,154.69 L922.70,156.28 L923.20,154.78 L923.70,153.31 L924.20,155.08 L924.70,150.65 L925.20,155.10 L925.70,149.95 L926.20,151.09 L926.70,157.47 L927.20,156.15 L927.70,154.62 L928.20,152.65 L928.70,151.31 L929.20,149.83 L929.70,153.27 L930.20,153.46 L930.70,156.99 L931.20,154.17 L931.70,153.74 L932.20,149.32 L932.70,150.18 L933.20,150.53 L933.70,152.95 L934.20,151.94 L934.70,156.49 L935.20,149.75 L935.70,149.55 L936.20,154.16 L936.70,153.57 L937.20,152.51 L937.70,154.50 L938.20,157.13 L938.70,148.77 L939.20,154.50 L939.70,152.73 L940.20,154.85 L940.70,149.46 L941.20,149.66 L941.70,151.29 L942.20,152.04 L942.70,150.22 L943.20,150.82 L943.70,152.90 L944.20,155.73 L944.70,149.31 L945.20,153.94 L945.70,154.78 L946.20,155.53 L946.70,153.21 L947.20,150.37 L947.70,155.03 L948.20,153.34 L948.70,151.28 L949.20,147.56 L949.70,154.02 L950.20,155.77 L950.70,150.71 L951.20,152.14 L951.70,148.53 L952.20,151.18 L952.70,148.82 L953.20,154.31 L953.70,149.10 L954.20,149.74 L954.70,153.36 L955.20,153.70 L955.70,153.26 L956.20,153.29 L956.70,154.40 L957.20,150.82 L957.70,147.30 L958.20,152.41 L958.70,148.97 L959.20,152.49 L959.20,179.31 L958.70,177.54 L958.20,177.93 L957.70,177.96 L957.20,178.06 L956.70,177.75 L956.20,179.19 L955.70,179.25 L955.20,179.83 L954.70,177.76 L954.20,178.98 L953.70,178.44 L953.20,178.56 L952.70,179.64 L952.20,179.06 L951.70,179.79 L951.20,178.68 L950.70,178.49 L950.20,177.84 L949.70,178.07 L949.20,179.07 L948.70,177.79 L948.20,178.42 L947.70,178.43 L947.20,178.92 L946.70,178.21 L946.20,177.72 L945.70,178.85 L945.20,177.52 L944.70,178.23 L944.20,179.09 L943.70,178.02 L943.20,177.44 L942.70,178.44 L942.20,177.58 L941.70,179.74 L941.20,179.07 L940.70,178.88 L940.20,179.21 L939.70,178.60 L939.20,178.37 L938.70,178.98 L938.20,178.87 L937.70,178.68 L937.20,178.89 L936.70,178.76 L936.20,178.82 L935.70,178.90 L935.20,177.54 L934.70,177.61 L934.20,177.78 L933.70,179.81 L933.20,178.06 L932.70,177.49 L932.20,178.58 L931.70,177.77 L931.20,179.75 L930.70,178.61 L930.20,179.57 L929.70,179.61 L929.20,177.66 L928.70,179.58 L928.20,178.04 L927.70,178.04 L927.20,177.43 L926.70,178.74 L926.20,178.27 L925.70,177.46 L925.20,178.73 L924.70,177.53 L924.20,178.09 L923.70,178.53 L923.20,179.03 L922.70,178.86 L922.20,177.52 L921.70,179.72 L921.20,177.57 L920.70,179.17 L920.20,179.30 L919.70,178.63 L919.20,178.83 L918.70,178.99 L918.20,179.39 L917.70,179.59 L917.20,179.56 L916.70,178.32 L916.20,178.23 L915.70,178.32 L915.20,178.35 L914.70,177.82 L914.20,178.97 L913.70,178.52 L913.20,178.67 L912.70,179.19 L912.20,178.76 L911.70,177.73 L911.20,177.91 L910.70,177.80 L910.20,177.73 L909.70,179.11 L909.20,177.57 L908.70,178.33 L908.20,178.39 L907.70,178.23 L907.20,178.47 L906.70,177.68 L906.20,178.94 L905.70,179.43 L905.20,179.20 L904.70,177.50 L904.20,177.70 L903.70,179.08 L903.20,179.53 L902.70,178.53 L902.20,179.65 L901.70,178.30 L901.20,178.92 L900.70,179.26 L900.20,177.44 L899.70,178.06 L899.20,179.85 L898.70,179.11 L898.20,179.81 L897.70,178.78 L897.20,179.19 L896.70,178.90 L896.20,177.73 L895.70,179.69 L895.20,179.24 L894.70,178.33 L894.20,178.67 L893.70,179.52 L893.20,178.92 L892.70,178.91 L892.20,178.96 L891.70,177.42 L891.20,178.11 L890.70,178.90 L890.20,177.48 L889.70,178.22 L889.20,177.82 L888.70,178.48 L888.20,179.07 L887.70,177.91 L887.20,177.74 L886.70,178.76 L886.20,179.72 L885.70,179.26 L885.20,178.97 L884.70,177.84 L884.20,178.11 L883.70,177.48 L883.20,178.52 L882.70,178.53 L882.20,179.31 L881.70,179.12 L881.20,177.70 L880.70,178.86 L880.20,177.55 L879.70,178.36 L879.20,178.48 L878.70,179.07 L878.20,178.88 L877.70,178.15 L877.20,179.51 L876.70,178.23 L876.20,179.49 L875.70,179.73 L875.20,177.73 L874.70,177.60 L874.20,177.88 L873.70,179.03 L873.20,178.88 L872.70,178.23 L872.20,178.53 L871.70,179.78 L871.20,177.97 L870.70,179.83 L870.20,178.99 L869.70,178.11 L869.20,179.83 L868.70,178.93 L868.20,177.42 L867.70,179.38 L867.20,179.35 L866.70,178.91 L866.20,177.74 L865.70,178.88 L865.20,179.05 L864.70,178.51 L864.20,177.99 L863.70,179.14 L863.20,179.28 L862.70,179.52 L862.20,177.48 L861.70,179.73 L861.20,179.25 L860.70,179.23 L860.20,179.11 L859.70,178.54 L859.20,178.79 L858.70,177.72 L858.20,178.64 L857.70,177.92 L857.20,179.30 L856.70,177.52 L856.20,178.63 L855.70,178.28 L855.20,177.58 L854.70,177.43 L854.20,179.19 L853.70,177.89 L853.20,178.57 L852.70,178.30 L852.20,179.14 L851.70,178.24 L851.20,179.43 L850.70,179.69 L850.20,179.55 L849.70,179.11 L849.20,178.31 L848.70,179.46 L848.20,179.40 L847.70,178.71 L847.20,179.12 L846.70,179.00 L846.20,179.73 L845.70,177.53 L845.20,179.64 L844.70,179.33 L844.20,178.23 L843.70,179.12 L843.20,179.75 L842.70,179.71 L842.20,178.40 L841.70,179.09 L841.20,178.58 L840.70,178.87 L840.20,178.68 L839.70,178.34 L839.20,177.50 L838.70,179.06 L838.20,178.47 L837.70,179.39 L837.20,178.05 L836.70,177.55 L836.20,178.52 L835.70,179.28 L835.20,178.39 L834.70,178.49 L834.20,179.54 L833.70,177.58 L833.20,179.67 L832.70,179.39 L832.20,177.44 L831.70,179.01 L831.20,178.37 L830.70,178.95 L830.20,179.83 L829.70,177.45 L829.20,178.92 L828.70,178.61 L828.20,179.57 L827.70,177.81 L827.20,178.20 L826.70,179.06 L826.20,178.07 L825.70,178.91 L825.20,179.16 L824.70,177.42 L824.20,179.29 L823.70,177.83 L823.20,178.18 L822.70,179.69 L822.20,178.58 L821.70,179.66 L821.20,177.76 L820.70,178.69 L820.20,177.84 L819.70,179.51 L819.20,178.30 L818.70,179.49 L818.20,177.91 L817.70,178.25 L817.20,178.57 L816.70,179.76 L816.20,178.53 L815.70,179.24 L815.20,178.00 L814.70,178.41 L814.20,179.61 L813.70,178.74 L813.20,178.28 L812.70,179.16 L812.20,177.43 L811.70,178.84 L811.20,178.29 L810.70,177.88 L810.20,178.86 L809.70,178.55 L809.20,178.90 L808.70,179.33 L808.20,178.31 L807.70,179.68 L807.20,179.72 L806.70,178.48 L806.20,177.70 L805.70,177.81 L805.20,179.40 L804.70,178.98 L804.20,179.09 L803.70,177.62 L803.20,178.12 L802.70,179.53 L802.20,179.68 L801.70,179.14 L801.20,179.68 L800.70,178.82 L800.20,177.43 L799.70,179.24 L799.20,178.34 L798.70,178.04 L798.20,178.32 L797.70,178.54 L797.20,179.73 L796.70,177.45 L796.20,178.31 L795.70,179.21 L795.20,177.67 L794.70,177.52 L794.20,178.84 L793.70,178.23 L793.20,179.75 L792.70,179.60 L792.20,178.72 L791.70,177.47 L791.20,179.70 L790.70,177.66 L790.20,179.27 L789.70,179.18 L789.20,178.40 L788.70,178.37 L788.20,177.58 L787.70,177.88 L787.20,177.49 L786.70,179.26 L786.20,178.89 L785.70,179.82 L785.20,178.29 L784.70,178.47 L784.20,177.54 L783.70,179.00 L783.20,178.09 L782.70,178.16 L782.20,177.86 L781.70,179.24 L781.20,178.40 L780.70,178.14 L780.20,179.47 L779.70,178.76 L779.20,178.39 L778.70,179.07 L778.20,179.64 L777.70,179.38 L777.20,178.61 L776.70,178.18 L776.20,179.59 L775.70,179.38 L775.20,179.57 L774.70,179.64 L774.20,177.68 L773.70,179.10 L773.20,178.05 L772.70,177.77 L772.20,179.37 L771.70,178.95 L771.20,178.62 L770.70,179.08 L770.20,177.95 L769.70,179.41 L769.20,177.86 L768.70,177.59 L768.20,179.72 L767.70,177.90 L767.20,179.81 L766.70,179.38 L766.20,177.77 L765.70,179.11 L765.20,178.30 L764.70,179.67 L764.20,178.17 L763.70,179.51 L763.20,177.90 L762.70,177.98 L762.20,177.76 L761.70,178.55 L761.20,178.10 L760.70,178.27 L760.20,177.70 L759.70,178.33 L759.20,177.57 L758.70,178.01 L758.20,179.02 L757.70,178.71 L757.20,179.39 L756.70,178.26 L756.20,179.76 L755.70,179.82 L755.20,179.12 L754.70,179.80 L754.20,177.80 L753.70,178.86 L753.20,179.46 L752.70,177.78 L752.20,178.44 L751.70,177.88 L751.20,177.67 L750.70,179.38 L750.20,177.60 L749.70,179.31 L749.20,177.80 L748.70,178.92 L748.20,178.30 L747.70,178.33 L747.20,178.85 L746.70,177.61 L746.20,177.65 L745.70,179.09 L745.20,177.50 L744.70,178.43 L744.20,177.67 L743.70,179.44 L743.20,179.38 L742.70,177.77 L742.20,179.45 L741.70,179.24 L741.20,179.62 L740.70,177.53 L740.20,179.41 L739.70,179.43 L739.20,177.51 L738.70,179.28 L738.20,177.97 L737.70,179.63 L737.20,177.69 L736.70,179.21 L736.20,179.56 L735.70,178.50 L735.20,179.27 L734.70,179.66 L734.20,178.90 L733.70,179.36 L733.20,177.78 L732.70,179.31 L732.20,177.41 L731.70,178.24 L731.20,177.79 L730.70,179.41 L730.20,178.36 L729.70,179.78 L729.20,179.65 L728.70,178.43 L728.20,178.49 Z" fill="#434343"/>
<path d="M736.20,180.50V175.83M738.20,180.50V177.88M742.20,180.50V177.02M744.70,180.50V172.80M745.70,180.50V175.05M749.20,180.50V174.71M754.70,180.50V174.05M755.20,180.50V177.59M762.70,180.50V173.43M770.70,180.50V173.91M776.70,180.50V178.20M780.20,180.50V172.91M790.70,180.50V172.31M798.70,180.50V177.69M801.70,180.50V177.12M812.70,180.50V176.53M819.70,180.50V173.35M823.70,180.50V176.10M826.70,180.50V177.56M827.70,180.50V177.03M828.20,180.50V172.74M829.20,180.50V175.95M838.70,180.50V174.28M843.70,180.50V172.79M846.70,180.50V178.24M849.20,180.50V177.78M858.70,180.50V175.36M859.20,180.50V172.82M860.70,180.50V173.36M863.70,180.50V178.22M865.70,180.50V176.31M870.70,180.50V172.97M871.20,180.50V176.00M871.70,180.50V176.50M873.70,180.50V174.53M875.20,180.50V175.79M881.20,180.50V177.59M887.20,180.50V176.86M889.70,180.50V174.81M891.70,180.50V175.08M894.20,180.50V174.93M898.20,180.50V176.21M898.70,180.50V177.13M900.70,180.50V174.86M903.20,180.50V175.32M904.20,180.50V172.32M912.70,180.50V175.00M915.20,180.50V172.32M916.20,180.50V176.33M923.70,180.50V176.18M928.70,180.50V173.11M932.70,180.50V177.48M934.20,180.50V176.82M936.70,180.50V175.17M938.20,180.50V174.76M939.70,180.50V177.86M940.70,180.50V172.34M941.70,180.50V174.57M942.20,180.50V172.65M943.20,180.50V173.60M944.20,180.50V177.72M944.70,180.50V177.70M946.20,180.50V175.76M947.20,180.50V173.84M951.20,180.50V176.54M959.20,180.50V172.61" stroke="#f4f4f4" stroke-width="0.6" fill="none"/>
<line x1="767.50" y1="176.37" x2="767.50" y2="38.08" stroke="#555" stroke-width="1.0" />
<line x1="768.50" y1="176.37" x2="768.50" y2="63.88" stroke="#2e2e2e" stroke-width="1.2" />
<line x1="807.50" y1="176.37" x2="807.50" y2="103.72" stroke="#2e2e2e" stroke-width="1.2" />
<line x1="847.50" y1="176.37" x2="847.50" y2="124.36" stroke="#2e2e2e" stroke-width="1.1" />
<line x1="848.50" y1="176.37" x2="848.50" y2="126.84" stroke="#3a3a3a" stroke-width="0.9" />
<line x1="727.60" y1="180.90" x2="959.60" y2="180.90" stroke="#c8c8c8" stroke-width="1" />
<line x1="959.60" y1="35.20" x2="959.60" y2="180.90" stroke="#c8c8c8" stroke-width="1" />
<line x1="727.30" y1="35.20" x2="959.60" y2="35.20" stroke="#505050" stroke-width="1.3" />
<line x1="727.60" y1="35.20" x2="727.60" y2="181.20" stroke="#505050" stroke-width="1.3" />
<line x1="722.40" y1="180.50" x2="726.60" y2="180.50" stroke="#333" stroke-width="1.3" />
<text x="715.42" y="184.15" font-size="10.5" textLength="4.88" lengthAdjust="spacingAndGlyphs" fill="#262626" stroke="#262626" stroke-width="0.55" >0</text>
<line x1="722.40" y1="159.86" x2="726.60" y2="159.86" stroke="#333" stroke-width="1.3" />
<text x="707.92" y="163.51" font-size="10.5" textLength="12.38" lengthAdjust="spacingAndGlyphs" fill="#262626" stroke="#262626" stroke-width="0.55" >0.1</text>
<line x1="722.40" y1="139.22" x2="726.60" y2="139.22" stroke="#333" stroke-width="1.3" />
<text x="707.92" y="142.87" font-size="10.5" textLength="12.38" lengthAdjust="spacingAndGlyphs" fill="#262626" stroke="#262626" stroke-width="0.55" >0.2</text>
<line x1="722.40" y1="118.58" x2="726.60" y2="118.58" stroke="#333" stroke-width="1.3" />
<text x="707.92" y="122.23" font-size="10.5" textLength="12.38" lengthAdjust="spacingAndGlyphs" fill="#262626" stroke="#262626" stroke-width="0.55" >0.3</text>
<line x1="722.40" y1="97.94" x2="726.60" y2="97.94" stroke="#333" stroke-width="1.3" />
<text x="707.92" y="101.59" font-size="10.5" textLength="12.38" lengthAdjust="spacingAndGlyphs" fill="#262626" stroke="#262626" stroke-width="0.55" >0.4</text>
<line x1="722.40" y1="77.30" x2="726.60" y2="77.30" stroke="#333" stroke-width="1.3" />
<text x="707.92" y="80.95" font-size="10.5" textLength="12.38" lengthAdjust="spacingAndGlyphs" fill="#262626" stroke="#262626" stroke-width="0.55" >0.5</text>
<line x1="722.40" y1="56.66" x2="726.60" y2="56.66" stroke="#333" stroke-width="1.3" />
<text x="707.92" y="60.31" font-size="10.5" textLength="12.38" lengthAdjust="spacingAndGlyphs" fill="#262626" stroke="#262626" stroke-width="0.55" >0.6</text>
<line x1="722.40" y1="36.02" x2="726.60" y2="36.02" stroke="#333" stroke-width="1.3" />
<text x="707.92" y="39.67" font-size="10.5" textLength="12.38" lengthAdjust="spacingAndGlyphs" fill="#262626" stroke="#262626" stroke-width="0.55" >0.7</text>
<line x1="728.10" y1="182.90" x2="728.10" y2="186.70" stroke="#333" stroke-width="1.3" />
<text x="725.66" y="196.90" font-size="10.5" textLength="4.88" lengthAdjust="spacingAndGlyphs" fill="#262626" stroke="#262626" stroke-width="0.55" >0</text>
<line x1="774.24" y1="182.90" x2="774.24" y2="186.70" stroke="#333" stroke-width="1.3" />
<text x="766.93" y="196.90" font-size="10.5" textLength="14.63" lengthAdjust="spacingAndGlyphs" fill="#262626" stroke="#262626" stroke-width="0.55" >200</text>
<line x1="820.38" y1="182.90" x2="820.38" y2="186.70" stroke="#333" stroke-width="1.3" />
<text x="813.07" y="196.90" font-size="10.5" textLength="14.63" lengthAdjust="spacingAndGlyphs" fill="#262626" stroke="#262626" stroke-width="0.55" >400</text>
<line x1="866.52" y1="182.90" x2="866.52" y2="186.70" stroke="#333" stroke-width="1.3" />
<text x="859.21" y="196.90" font-size="10.5" textLength="14.63" lengthAdjust="spacingAndGlyphs" fill="#262626" stroke="#262626" stroke-width="0.55" >600</text>
<line x1="912.66" y1="182.90" x2="912.66" y2="186.70" stroke="#333" stroke-width="1.3" />
<text x="905.35" y="196.90" font-size="10.5" textLength="14.63" lengthAdjust="spacingAndGlyphs" fill="#262626" stroke="#262626" stroke-width="0.55" >800</text>
<line x1="958.80" y1="182.90" x2="958.80" y2="186.70" stroke="#333" stroke-width="1.3" />
<text x="949.05" y="196.90" font-size="10.5" textLength="19.50" lengthAdjust="spacingAndGlyphs" fill="#262626" stroke="#262626" stroke-width="0.55" >1000</text>
<text x="819.80" y="210.30" font-size="10.5" textLength="45.50" lengthAdjust="spacingAndGlyphs" fill="#262626" stroke="#262626" stroke-width="0.55" >Frequency</text>
<g transform="translate(698.40,109.20) rotate(-90)">
<text x="-23.00" y="3.30" font-size="10.5" textLength="46.00" lengthAdjust="spacingAndGlyphs" fill="#262626" stroke="#262626" stroke-width="0.55" >Amplitude</text>
</g>
<rect x="992.20" y="29.90" width="79.60" height="225.20" rx="3" fill="none" stroke="rgba(0,0,0,0.18)" stroke-width="1.6" />
<rect x="991.00" y="28.70" width="79.60" height="225.20" rx="3" fill="#f1f1f1" stroke="#444444" stroke-width="1.6" />
<text x="1001.00" y="52.60" font-size="10.5" textLength="52.56" lengthAdjust="spacingAndGlyphs" fill="#262626" stroke="#262626" stroke-width="0.55" >BPFO (HNR)</text>
<rect x="1001.90" y="59.50" width="63.60" height="23.60" rx="3" fill="none" stroke="rgba(0,0,0,0.2)" stroke-width="1.5" />
<rect x="1000.90" y="58.30" width="63.60" height="23.60" rx="3" fill="#fcfcfc" stroke="#353535" stroke-width="1.6" />
<text x="1008.20" y="74.70" font-size="10.5" textLength="17.25" lengthAdjust="spacingAndGlyphs" fill="#262626" stroke="#262626" stroke-width="0.55" >9.75</text>
<text x="1001.00" y="102.20" font-size="10.5" textLength="48.09" lengthAdjust="spacingAndGlyphs" fill="#262626" stroke="#262626" stroke-width="0.55" >BPFI (HNR)</text>
<rect x="1001.90" y="109.00" width="63.60" height="23.60" rx="3" fill="none" stroke="rgba(0,0,0,0.2)" stroke-width="1.5" />
<rect x="1000.90" y="107.80" width="63.60" height="23.60" rx="3" fill="#fcfcfc" stroke="#353535" stroke-width="1.6" />
<text x="1008.20" y="124.20" font-size="10.5" textLength="17.25" lengthAdjust="spacingAndGlyphs" fill="#262626" stroke="#262626" stroke-width="0.55" >2.23</text>
<text x="1001.00" y="151.80" font-size="10.5" textLength="45.61" lengthAdjust="spacingAndGlyphs" fill="#262626" stroke="#262626" stroke-width="0.55" >BSF (HNR)</text>
<rect x="1001.90" y="158.50" width="63.60" height="23.60" rx="3" fill="none" stroke="rgba(0,0,0,0.2)" stroke-width="1.5" />
<rect x="1000.90" y="157.30" width="63.60" height="23.60" rx="3" fill="#fcfcfc" stroke="#353535" stroke-width="1.6" />
<text x="1008.20" y="173.70" font-size="10.5" textLength="17.25" lengthAdjust="spacingAndGlyphs" fill="#262626" stroke="#262626" stroke-width="0.55" >1.37</text>
<text x="1001.00" y="201.40" font-size="10.5" textLength="40.15" lengthAdjust="spacingAndGlyphs" fill="#262626" stroke="#262626" stroke-width="0.55" >CF (HNR)</text>
<rect x="1001.90" y="208.00" width="63.60" height="23.60" rx="3" fill="none" stroke="rgba(0,0,0,0.2)" stroke-width="1.5" />
<rect x="1000.90" y="206.80" width="63.60" height="23.60" rx="3" fill="#fcfcfc" stroke="#353535" stroke-width="1.6" />
<text x="1008.20" y="223.20" font-size="10.5" textLength="17.25" lengthAdjust="spacingAndGlyphs" fill="#262626" stroke="#262626" stroke-width="0.55" >0.78</text>
<rect x="330.50" y="258.00" width="330.40" height="201.20" rx="3" fill="none" stroke="rgba(0,0,0,0.18)" stroke-width="1.6" />
<rect x="329.30" y="256.80" width="330.40" height="201.20" rx="3" fill="#f2f2f2" stroke="#444444" stroke-width="1.6" />
<text x="326.10" y="250.00" font-size="10.5" textLength="41.80" lengthAdjust="spacingAndGlyphs" fill="#262626" stroke="#262626" stroke-width="0.55" >Spectrum</text>
<rect x="564.20" y="232.80" width="96.00" height="22.40" rx="3.5" fill="none" stroke="rgba(0,0,0,0.18)" stroke-width="1.6" />
<rect x="563.00" y="231.60" width="96.00" height="22.40" rx="3.5" fill="#f3f3f3" stroke="#444444" stroke-width="1.7" />
<text x="575.80" y="246.90" font-size="10.5" textLength="41.20" lengthAdjust="spacingAndGlyphs" fill="#262626" stroke="#262626" stroke-width="0.55" >Spectrum</text>
<rect x="626.60" y="236.00" width="23.40" height="14.80" rx="0" fill="#f6f6f8" />
<line x1="626.60" y1="250.80" x2="650.00" y2="250.80" stroke="#c8c8c8" stroke-width="1.2" />
<line x1="650.00" y1="236.00" x2="650.00" y2="250.80" stroke="#c8c8c8" stroke-width="1.2" />
<line x1="626.60" y1="236.00" x2="650.00" y2="236.00" stroke="#505050" stroke-width="1.2" />
<line x1="626.60" y1="236.00" x2="626.60" y2="250.80" stroke="#505050" stroke-width="1.2" />
<path d="M628.02,246.72 L634.84,238.45 L641.66,246.72 L648.47,238.14" fill="none" stroke="#3a3a3a" stroke-width="1.5" stroke-linejoin="miter"/>
<rect x="381.80" y="262.60" width="261.70" height="155.80" rx="0" fill="#fdfdfd" />
<path d="M387.41,262.60V418.40M392.61,262.60V418.40M397.82,262.60V418.40M403.02,262.60V418.40M413.44,262.60V418.40M418.64,262.60V418.40M423.85,262.60V418.40M429.05,262.60V418.40M439.47,262.60V418.40M444.67,262.60V418.40M449.88,262.60V418.40M455.08,262.60V418.40M465.50,262.60V418.40M470.70,262.60V418.40M475.91,262.60V418.40M481.11,262.60V418.40M491.53,262.60V418.40M496.73,262.60V418.40M501.94,262.60V418.40M507.14,262.60V418.40M517.56,262.60V418.40M522.76,262.60V418.40M527.97,262.60V418.40M533.17,262.60V418.40M543.59,262.60V418.40M548.79,262.60V418.40M554.00,262.60V418.40M559.20,262.60V418.40M569.62,262.60V418.40M574.82,262.60V418.40M580.03,262.60V418.40M585.23,262.60V418.40M595.65,262.60V418.40M600.85,262.60V418.40M606.06,262.60V418.40M611.26,262.60V418.40M621.68,262.60V418.40M626.88,262.60V418.40M632.09,262.60V418.40M637.29,262.60V418.40M381.80,413.78H643.50M381.80,409.46H643.50M381.80,405.14H643.50M381.80,396.50H643.50M381.80,392.18H643.50M381.80,387.86H643.50M381.80,379.22H643.50M381.80,374.90H643.50M381.80,370.58H643.50M381.80,361.94H643.50M381.80,357.62H643.50M381.80,353.30H643.50M381.80,344.66H643.50M381.80,340.34H643.50M381.80,336.02H643.50M381.80,327.38H643.50M381.80,323.06H643.50M381.80,318.74H643.50M381.80,310.10H643.50M381.80,305.78H643.50M381.80,301.46H643.50M381.80,292.82H643.50M381.80,288.50H643.50M381.80,284.18H643.50M381.80,275.54H643.50M381.80,271.22H643.50M381.80,266.90H643.50" stroke="#e0e0e0" stroke-width="1" fill="none"/>
<path d="M408.23,262.60V418.40M434.26,262.60V418.40M460.29,262.60V418.40M486.32,262.60V418.40M512.35,262.60V418.40M538.38,262.60V418.40M564.41,262.60V418.40M590.44,262.60V418.40M616.47,262.60V418.40M381.80,400.82H643.50M381.80,383.54H643.50M381.80,366.26H643.50M381.80,348.98H643.50M381.80,331.70H643.50M381.80,314.42H643.50M381.80,297.14H643.50M381.80,279.86H643.50" stroke="#c8c8c8" stroke-width="1" fill="none"/>
<path d="M382.20,279.86 L382.46,385.57 L382.59,388.92 L382.72,391.91 L382.85,394.52 L382.98,396.95 L383.11,398.98 L383.24,401.15 L383.37,402.65 L383.50,403.95 L383.63,405.35 L383.76,406.43 L383.89,407.73 L384.02,408.53 L384.15,409.42 L384.28,410.05 L384.41,410.70 L384.54,411.47 L384.67,411.93 L384.80,412.37 L384.93,412.57 L385.06,413.00 L385.19,413.55 L385.32,413.64 L385.45,414.14 L385.58,414.22 L385.71,414.62 L385.84,414.87 L385.97,414.75 L386.10,415.15 L386.23,415.30 L386.36,415.18 L386.49,415.34 L386.63,415.66 L386.76,415.54 L386.89,415.78 L387.02,415.83 L387.15,416.06 L387.28,415.79 L387.41,415.52 L387.54,414.22 L387.67,411.81 L387.80,409.12 L387.93,407.78 L388.06,409.28 L388.19,412.28 L388.32,414.86 L388.45,416.09 L388.58,416.45 L388.71,416.80 L388.84,416.61 L388.97,416.77 L389.10,416.81 L389.23,416.67 L389.36,416.81 L389.49,416.90 L389.62,416.87 L389.75,416.82 L389.88,417.07 L390.01,416.77 L390.14,417.12 L390.27,416.90 L390.40,416.88 L390.53,417.19 L390.66,416.94 L390.79,417.11 L390.92,417.05 L391.05,417.27 L391.18,417.27 L391.31,417.24 L391.44,416.99 L391.57,417.26 L391.70,417.08 L391.83,417.04 L391.96,417.05 L392.09,417.27 L392.22,417.27 L392.35,417.23 L392.48,417.15 L392.61,417.39 L392.74,417.18 L392.87,417.18 L393.00,417.17 L393.13,417.46 L393.26,417.16 L393.39,417.46 L393.52,417.38 L393.65,417.30 L393.78,417.20 L393.91,417.41 L394.04,417.21 L394.17,417.35 L394.30,417.44 L394.43,417.44 L394.56,417.50 L394.69,417.54 L394.82,417.52 L394.95,417.34 L395.08,417.24 L395.21,417.53 L395.35,417.58 L395.48,417.26 L395.61,417.42 L395.74,417.47 L395.87,417.53 L396.00,417.41 L396.13,417.34 L396.26,417.47 L396.39,417.49 L396.52,417.62 L396.65,417.32 L396.78,417.63 L396.91,417.48 L397.04,417.36 L397.17,417.61 L397.30,417.40 L397.43,417.33 L397.56,417.45 L397.69,417.39 L397.82,417.63 L397.95,417.52 L398.08,417.62 L398.21,417.39 L398.34,417.58 L398.47,417.53 L398.60,417.34 L398.73,417.39 L398.86,417.35 L398.99,417.53 L399.12,417.53 L399.25,417.44 L399.38,417.53 L399.51,417.60 L399.64,417.56 L399.77,417.65 L399.90,417.57 L400.03,417.36 L400.16,417.38 L400.29,417.49 L400.42,417.54 L400.55,417.60 L400.68,417.68 L400.81,417.62 L400.94,417.45 L401.07,417.42 L401.20,417.59 L401.33,417.45 L401.46,417.45 L401.59,417.48 L401.72,417.49 L401.85,417.46 L401.98,417.60 L402.11,417.48 L402.24,417.63 L402.37,417.56 L402.50,417.46 L402.63,417.49 L402.76,417.63 L402.89,417.40 L403.02,417.51 L403.15,417.53 L403.28,417.73 L403.41,417.55 L403.54,417.65 L403.67,417.49 L403.80,417.46 L403.94,416.77 L404.07,415.13 L404.20,412.42 L404.33,411.14 L404.46,412.47 L404.59,415.10 L404.72,416.77 L404.85,417.50 L404.98,417.44 L405.11,417.44 L405.24,417.50 L405.37,417.40 L405.50,417.41 L405.63,417.56 L405.76,417.56 L405.89,417.69 L406.02,417.45 L406.15,417.42 L406.28,417.58 L406.41,417.51 L406.54,417.50 L406.67,417.49 L406.80,417.69 L406.93,417.48 L407.06,417.55 L407.19,417.52 L407.32,417.60 L407.45,417.53 L407.58,417.48 L407.71,417.53 L407.84,417.50 L407.97,417.74 L408.10,417.69 L408.23,417.60 L408.36,417.52 L408.49,417.67 L408.62,417.51 L408.75,417.53 L408.88,417.73 L409.01,417.59 L409.14,417.67 L409.27,417.73 L409.40,417.70 L409.53,417.64 L409.66,417.69 L409.79,417.68 L409.92,417.74 L410.05,417.59 L410.18,417.62 L410.31,417.54 L410.44,417.55 L410.57,417.67 L410.70,417.44 L410.83,417.75 L410.96,417.61 L411.09,417.66 L411.22,417.61 L411.35,417.71 L411.48,417.46 L411.61,417.62 L411.74,417.74 L411.87,417.54 L412.00,417.72 L412.13,417.56 L412.26,417.64 L412.39,417.55 L412.52,417.42 L412.66,417.47 L412.79,417.61 L412.92,417.47 L413.05,417.53 L413.18,417.63 L413.31,417.70 L413.44,417.55 L413.57,417.56 L413.70,417.42 L413.83,417.42 L413.96,417.54 L414.09,417.63 L414.22,417.44 L414.35,417.75 L414.48,417.72 L414.61,417.55 L414.74,417.49 L414.87,417.43 L415.00,416.58 L415.13,415.43 L415.26,415.03 L415.39,415.59 L415.52,416.72 L415.65,417.38 L415.78,417.37 L415.91,417.62 L416.04,417.42 L416.17,417.44 L416.30,417.55 L416.43,417.66 L416.56,417.41 L416.69,417.58 L416.82,417.61 L416.95,417.64 L417.08,417.41 L417.21,417.58 L417.34,417.65 L417.47,417.59 L417.60,417.71 L417.73,417.54 L417.86,417.60 L417.99,417.65 L418.12,417.48 L418.25,417.47 L418.38,417.75 L418.51,417.57 L418.64,417.66 L418.77,417.43 L418.90,417.48 L419.03,417.67 L419.16,417.66 L419.29,417.70 L419.42,417.41 L419.55,417.65 L419.68,417.54 L419.81,417.59 L419.94,417.53 L420.07,417.55 L420.20,417.50 L420.33,417.71 L420.46,417.49 L420.59,417.65 L420.72,417.57 L420.85,417.64 L420.98,417.65 L421.11,417.57 L421.25,417.59 L421.38,417.63 L421.51,417.50 L421.64,417.55 L421.77,417.74 L421.90,417.67 L422.03,417.60 L422.16,417.44 L422.29,417.45 L422.42,417.57 L422.55,417.75 L422.68,417.49 L422.81,417.61 L422.94,417.56 L423.07,417.51 L423.20,417.54 L423.33,417.59 L423.46,417.44 L423.59,417.62 L423.72,417.62 L423.85,417.46 L423.98,417.69 L424.11,417.65 L424.24,417.47 L424.37,417.73 L424.50,417.47 L424.63,417.51 L424.76,417.60 L424.89,417.66 L425.02,417.48 L425.15,417.43 L425.28,417.63 L425.41,417.24 L425.54,416.39 L425.67,414.78 L425.80,412.92 L425.93,412.09 L426.06,412.83 L426.19,414.67 L426.32,416.55 L426.45,417.33 L426.58,417.40 L426.71,417.47 L426.84,417.52 L426.97,417.75 L427.10,417.50 L427.23,417.42 L427.36,417.41 L427.49,417.51 L427.62,417.74 L427.75,417.46 L427.88,417.68 L428.01,417.53 L428.14,417.43 L428.27,417.51 L428.40,417.71 L428.53,417.65 L428.66,417.44 L428.79,417.69 L428.92,417.49 L429.05,417.34 L429.18,416.79 L429.31,415.38 L429.44,414.11 L429.57,413.40 L429.70,413.99 L429.83,415.57 L429.97,416.83 L430.10,417.29 L430.23,417.44 L430.36,417.44 L430.49,417.71 L430.62,417.61 L430.75,417.65 L430.88,417.55 L431.01,417.59 L431.14,417.43 L431.27,417.63 L431.40,417.74 L431.53,417.51 L431.66,417.70 L431.79,417.54 L431.92,417.58 L432.05,417.44 L432.18,417.56 L432.31,417.54 L432.44,417.66 L432.57,417.56 L432.70,417.67 L432.83,417.49 L432.96,417.58 L433.09,417.71 L433.22,417.67 L433.35,417.63 L433.48,417.50 L433.61,417.69 L433.74,417.51 L433.87,417.53 L434.00,417.72 L434.13,417.52 L434.26,417.72 L434.39,417.71 L434.52,417.55 L434.65,417.67 L434.78,417.45 L434.91,417.59 L435.04,417.64 L435.17,417.48 L435.30,417.74 L435.43,417.50 L435.56,417.74 L435.69,417.70 L435.82,417.43 L435.95,417.52 L436.08,417.68 L436.21,417.71 L436.34,417.42 L436.47,417.52 L436.60,417.47 L436.73,417.71 L436.86,417.54 L436.99,417.63 L437.12,417.67 L437.25,417.64 L437.38,417.54 L437.51,417.63 L437.64,417.62 L437.77,417.71 L437.90,417.47 L438.03,417.53 L438.16,417.48 L438.29,417.60 L438.42,417.46 L438.55,417.58 L438.69,417.55 L438.82,417.56 L438.95,417.50 L439.08,417.62 L439.21,417.72 L439.34,417.74 L439.47,417.68 L439.60,417.74 L439.73,417.45 L439.86,417.59 L439.99,417.49 L440.12,417.75 L440.25,417.59 L440.38,417.45 L440.51,417.54 L440.64,417.61 L440.77,417.59 L440.90,417.72 L441.03,417.70 L441.16,417.70 L441.29,417.62 L441.42,417.62 L441.55,417.45 L441.68,417.70 L441.81,417.67 L441.94,417.66 L442.07,417.70 L442.20,417.66 L442.33,417.67 L442.46,417.59 L442.59,417.74 L442.72,417.43 L442.85,417.63 L442.98,417.43 L443.11,417.52 L443.24,417.52 L443.37,417.59 L443.50,417.43 L443.63,417.71 L443.76,417.52 L443.89,417.65 L444.02,417.52 L444.15,417.50 L444.28,417.70 L444.41,417.68 L444.54,417.75 L444.67,417.67 L444.80,417.73 L444.93,417.62 L445.06,417.42 L445.19,417.63 L445.32,417.65 L445.45,417.59 L445.58,417.66 L445.71,417.50 L445.84,417.51 L445.97,417.70 L446.10,417.67 L446.23,417.52 L446.36,417.43 L446.49,417.53 L446.62,417.61 L446.75,417.42 L446.88,417.75 L447.01,417.73 L447.14,417.49 L447.27,417.61 L447.41,417.74 L447.54,417.56 L447.67,417.41 L447.80,417.58 L447.93,417.63 L448.06,417.72 L448.19,417.73 L448.32,417.44 L448.45,417.58 L448.58,417.43 L448.71,417.74 L448.84,417.67 L448.97,417.74 L449.10,417.62 L449.23,417.73 L449.36,417.67 L449.49,417.61 L449.62,417.65 L449.75,417.74 L449.88,417.74 L450.01,417.42 L450.14,417.69 L450.27,417.58 L450.40,417.62 L450.53,417.57 L450.66,417.73 L450.79,417.65 L450.92,417.72 L451.05,417.57 L451.18,417.44 L451.31,417.55 L451.44,417.46 L451.57,417.68 L451.70,417.75 L451.83,417.57 L451.96,417.59 L452.09,417.56 L452.22,417.62 L452.35,417.54 L452.48,417.50 L452.61,417.44 L452.74,417.65 L452.87,417.60 L453.00,417.47 L453.13,417.68 L453.26,417.71 L453.39,417.65 L453.52,417.72 L453.65,417.48 L453.78,417.47 L453.91,417.64 L454.04,417.70 L454.17,417.71 L454.30,417.65 L454.43,417.70 L454.56,417.57 L454.69,417.50 L454.82,417.59 L454.95,417.63 L455.08,417.38 L455.21,417.56 L455.34,417.46 L455.47,417.37 L455.60,417.26 L455.73,417.27 L455.86,417.06 L456.00,416.98 L456.13,416.70 L456.26,416.63 L456.39,416.37 L456.52,416.30 L456.65,416.11 L456.78,416.02 L456.91,415.92 L457.04,415.66 L457.17,415.60 L457.30,415.40 L457.43,415.40 L457.56,415.37 L457.69,415.50 L457.82,415.33 L457.95,415.52 L458.08,415.68 L458.21,415.79 L458.34,415.87 L458.47,415.97 L458.60,415.96 L458.73,416.22 L458.86,416.42 L458.99,416.29 L459.12,416.44 L459.25,416.68 L459.38,416.68 L459.51,416.61 L459.64,416.45 L459.77,416.14 L459.90,415.93 L460.03,415.84 L460.16,415.74 L460.29,415.45 L460.42,415.28 L460.55,415.13 L460.68,415.14 L460.81,414.92 L460.94,414.89 L461.07,415.05 L461.20,415.46 L461.33,415.54 L461.46,415.94 L461.59,416.03 L461.72,416.39 L461.85,416.47 L461.98,416.75 L462.11,417.17 L462.24,417.25 L462.37,417.16 L462.50,417.41 L462.63,417.48 L462.76,417.52 L462.89,417.44 L463.02,417.40 L463.15,417.55 L463.28,417.41 L463.41,417.54 L463.54,417.71 L463.67,417.42 L463.80,417.34 L463.93,416.72 L464.06,414.56 L464.19,411.77 L464.32,408.24 L464.45,406.79 L464.58,408.13 L464.72,411.64 L464.85,414.83 L464.98,416.64 L465.11,417.40 L465.24,417.43 L465.37,417.35 L465.50,416.76 L465.63,416.08 L465.76,414.86 L465.89,413.80 L466.02,413.09 L466.15,413.60 L466.28,414.69 L466.41,415.95 L466.54,416.89 L466.67,417.44 L466.80,417.39 L466.93,417.57 L467.06,417.74 L467.19,417.70 L467.32,417.72 L467.45,417.51 L467.58,417.44 L467.71,417.69 L467.84,417.48 L467.97,417.64 L468.10,417.52 L468.23,417.46 L468.36,417.54 L468.49,417.48 L468.62,417.62 L468.75,417.75 L468.88,417.58 L469.01,417.55 L469.14,417.69 L469.27,417.62 L469.40,417.64 L469.53,417.75 L469.66,417.65 L469.79,417.62 L469.92,417.59 L470.05,417.51 L470.18,417.62 L470.31,417.41 L470.44,417.47 L470.57,417.44 L470.70,417.51 L470.83,417.52 L470.96,417.57 L471.09,417.48 L471.22,417.63 L471.35,417.55 L471.48,417.52 L471.61,417.57 L471.74,417.66 L471.87,417.73 L472.00,417.72 L472.13,417.63 L472.26,417.55 L472.39,417.49 L472.52,417.51 L472.65,417.65 L472.78,417.43 L472.91,417.66 L473.04,417.51 L473.17,417.73 L473.31,417.49 L473.44,417.52 L473.57,417.42 L473.70,417.44 L473.83,417.52 L473.96,417.46 L474.09,417.50 L474.22,417.54 L474.35,417.68 L474.48,417.58 L474.61,417.44 L474.74,417.67 L474.87,417.42 L475.00,417.57 L475.13,417.62 L475.26,417.75 L475.39,417.62 L475.52,417.69 L475.65,417.53 L475.78,417.44 L475.91,417.44 L476.04,417.54 L476.17,417.62 L476.30,417.72 L476.43,417.52 L476.56,417.56 L476.69,417.51 L476.82,417.63 L476.95,417.45 L477.08,417.68 L477.21,417.65 L477.34,417.66 L477.47,417.54 L477.60,417.44 L477.73,417.70 L477.86,417.54 L477.99,417.49 L478.12,417.68 L478.25,417.73 L478.38,417.56 L478.51,417.47 L478.64,417.45 L478.77,417.50 L478.90,417.61 L479.03,417.61 L479.16,417.57 L479.29,417.44 L479.42,417.65 L479.55,417.66 L479.68,417.54 L479.81,417.42 L479.94,417.67 L480.07,417.68 L480.20,417.50 L480.33,416.98 L480.46,416.27 L480.59,415.47 L480.72,414.60 L480.85,414.09 L480.98,414.44 L481.11,415.30 L481.24,416.23 L481.37,417.15 L481.50,417.37 L481.63,417.40 L481.76,417.41 L481.89,417.64 L482.03,417.46 L482.16,417.53 L482.29,417.43 L482.42,417.68 L482.55,417.51 L482.68,417.46 L482.81,417.59 L482.94,417.72 L483.07,417.69 L483.20,417.70 L483.33,417.72 L483.46,417.70 L483.59,417.54 L483.72,417.72 L483.85,417.49 L483.98,417.50 L484.11,417.47 L484.24,417.48 L484.37,417.51 L484.50,417.44 L484.63,417.42 L484.76,417.54 L484.89,417.42 L485.02,417.72 L485.15,417.72 L485.28,417.73 L485.41,417.68 L485.54,417.62 L485.67,417.60 L485.80,417.52 L485.93,417.50 L486.06,417.73 L486.19,417.62 L486.32,417.57 L486.45,417.62 L486.58,417.71 L486.71,417.55 L486.84,417.63 L486.97,417.52 L487.10,417.58 L487.23,417.42 L487.36,417.43 L487.49,417.73 L487.62,417.49 L487.75,417.51 L487.88,417.65 L488.01,417.71 L488.14,417.59 L488.27,417.63 L488.40,417.50 L488.53,417.44 L488.66,417.62 L488.79,417.65 L488.92,417.58 L489.05,417.51 L489.18,417.48 L489.31,417.56 L489.44,417.65 L489.57,417.64 L489.70,417.46 L489.83,417.57 L489.96,417.74 L490.09,417.61 L490.22,417.67 L490.35,417.52 L490.48,417.73 L490.61,417.66 L490.75,417.72 L490.88,417.59 L491.01,417.41 L491.14,417.57 L491.27,417.62 L491.40,417.43 L491.53,417.72 L491.66,417.63 L491.79,417.47 L491.92,417.75 L492.05,417.49 L492.18,417.63 L492.31,417.75 L492.44,417.67 L492.57,417.60 L492.70,417.62 L492.83,417.58 L492.96,417.74 L493.09,417.68 L493.22,417.42 L493.35,417.60 L493.48,417.59 L493.61,417.72 L493.74,417.66 L493.87,417.42 L494.00,417.52 L494.13,417.58 L494.26,417.74 L494.39,417.62 L494.52,417.49 L494.65,417.60 L494.78,417.55 L494.91,417.44 L495.04,417.53 L495.17,417.53 L495.30,417.74 L495.43,417.75 L495.56,417.49 L495.69,417.61 L495.82,417.45 L495.95,417.47 L496.08,417.44 L496.21,417.62 L496.34,417.41 L496.47,417.49 L496.60,417.45 L496.73,417.70 L496.86,417.48 L496.99,417.61 L497.12,417.42 L497.25,417.41 L497.38,417.68 L497.51,417.61 L497.64,417.66 L497.77,417.59 L497.90,417.66 L498.03,417.52 L498.16,417.71 L498.29,417.70 L498.42,417.60 L498.55,417.73 L498.68,417.62 L498.81,417.44 L498.94,417.45 L499.07,417.69 L499.20,417.75 L499.34,417.47 L499.47,417.42 L499.60,417.55 L499.73,417.71 L499.86,417.67 L499.99,417.44 L500.12,417.43 L500.25,417.74 L500.38,417.69 L500.51,417.61 L500.64,417.66 L500.77,417.49 L500.90,417.63 L501.03,417.49 L501.16,417.70 L501.29,417.58 L501.42,417.42 L501.55,417.51 L501.68,417.72 L501.81,417.70 L501.94,417.48 L502.07,417.46 L502.20,417.19 L502.33,416.64 L502.46,415.89 L502.59,415.10 L502.72,415.08 L502.85,415.24 L502.98,416.00 L503.11,416.61 L503.24,417.06 L503.37,417.55 L503.50,417.54 L503.63,417.50 L503.76,417.75 L503.89,417.49 L504.02,417.61 L504.15,417.58 L504.28,417.54 L504.41,417.48 L504.54,417.74 L504.67,417.58 L504.80,417.74 L504.93,417.62 L505.06,417.63 L505.19,417.75 L505.32,417.65 L505.45,417.60 L505.58,417.53 L505.71,417.43 L505.84,417.63 L505.97,417.57 L506.10,417.51 L506.23,417.43 L506.36,417.43 L506.49,417.41 L506.62,417.65 L506.75,417.70 L506.88,417.43 L507.01,417.73 L507.14,417.60 L507.27,417.50 L507.40,417.57 L507.53,417.62 L507.66,417.43 L507.79,417.65 L507.92,417.56 L508.06,417.47 L508.19,417.71 L508.32,417.63 L508.45,417.58 L508.58,417.56 L508.71,417.68 L508.84,417.60 L508.97,417.73 L509.10,417.72 L509.23,417.64 L509.36,417.70 L509.49,417.42 L509.62,417.66 L509.75,417.66 L509.88,417.48 L510.01,417.50 L510.14,417.66 L510.27,417.47 L510.40,417.54 L510.53,417.62 L510.66,417.54 L510.79,417.67 L510.92,417.66 L511.05,417.45 L511.18,417.60 L511.31,417.44 L511.44,417.69 L511.57,417.71 L511.70,417.74 L511.83,417.50 L511.96,417.56 L512.09,417.75 L512.22,417.74 L512.35,417.47 L512.48,417.58 L512.61,417.45 L512.74,417.74 L512.87,417.55 L513.00,417.71 L513.13,417.51 L513.26,417.54 L513.39,417.54 L513.52,417.68 L513.65,417.43 L513.78,417.72 L513.91,417.73 L514.04,417.52 L514.17,417.72 L514.30,417.73 L514.43,417.60 L514.56,417.53 L514.69,417.45 L514.82,417.51 L514.95,417.73 L515.08,417.53 L515.21,417.46 L515.34,417.71 L515.47,417.49 L515.60,417.67 L515.73,417.65 L515.86,417.75 L515.99,417.49 L516.12,417.58 L516.25,417.44 L516.38,417.59 L516.51,417.70 L516.64,417.68 L516.78,417.66 L516.91,417.43 L517.04,417.68 L517.17,417.72 L517.30,417.63 L517.43,417.73 L517.56,417.61 L517.69,417.54 L517.82,417.53 L517.95,417.69 L518.08,417.71 L518.21,417.58 L518.34,417.52 L518.47,417.60 L518.60,417.56 L518.73,417.44 L518.86,417.70 L518.99,417.66 L519.12,417.58 L519.25,417.57 L519.38,417.44 L519.51,417.56 L519.64,417.53 L519.77,417.61 L519.90,417.48 L520.03,417.47 L520.16,417.65 L520.29,417.72 L520.42,417.66 L520.55,417.63 L520.68,417.45 L520.81,417.66 L520.94,417.54 L521.07,417.53 L521.20,417.42 L521.33,417.71 L521.46,417.49 L521.59,417.64 L521.72,417.72 L521.85,417.54 L521.98,417.46 L522.11,417.55 L522.24,417.74 L522.37,417.42 L522.50,417.62 L522.63,417.53 L522.76,417.50 L522.89,417.66 L523.02,417.61 L523.15,417.64 L523.28,417.72 L523.41,417.73 L523.54,417.51 L523.67,417.61 L523.80,417.45 L523.93,417.73 L524.06,417.65 L524.19,417.69 L524.32,417.43 L524.45,417.48 L524.58,417.44 L524.71,417.58 L524.84,417.72 L524.97,417.61 L525.10,417.68 L525.23,417.75 L525.37,417.56 L525.50,417.65 L525.63,417.72 L525.76,417.58 L525.89,417.43 L526.02,417.43 L526.15,417.59 L526.28,417.72 L526.41,417.49 L526.54,417.71 L526.67,417.57 L526.80,417.73 L526.93,417.41 L527.06,417.57 L527.19,417.60 L527.32,417.66 L527.45,417.56 L527.58,417.42 L527.71,417.61 L527.84,417.68 L527.97,417.58 L528.10,417.44 L528.23,417.62 L528.36,417.54 L528.49,417.44 L528.62,417.64 L528.75,417.47 L528.88,417.57 L529.01,417.71 L529.14,417.74 L529.27,417.43 L529.40,417.59 L529.53,417.60 L529.66,417.44 L529.79,417.56 L529.92,417.58 L530.05,417.66 L530.18,417.50 L530.31,417.67 L530.44,417.59 L530.57,417.49 L530.70,417.55 L530.83,417.71 L530.96,417.68 L531.09,417.51 L531.22,417.50 L531.35,417.72 L531.48,417.41 L531.61,417.71 L531.74,417.70 L531.87,417.72 L532.00,417.60 L532.13,417.54 L532.26,417.46 L532.39,417.70 L532.52,417.51 L532.65,417.72 L532.78,417.55 L532.91,417.67 L533.04,417.63 L533.17,417.74 L533.30,417.51 L533.43,417.71 L533.56,417.49 L533.69,417.64 L533.82,417.55 L533.95,417.53 L534.09,417.59 L534.22,417.45 L534.35,417.44 L534.48,417.66 L534.61,417.64 L534.74,417.45 L534.87,417.71 L535.00,417.61 L535.13,417.61 L535.26,417.42 L535.39,417.71 L535.52,417.53 L535.65,417.49 L535.78,417.50 L535.91,417.75 L536.04,417.43 L536.17,417.65 L536.30,417.46 L536.43,417.53 L536.56,417.61 L536.69,417.46 L536.82,417.52 L536.95,417.64 L537.08,417.50 L537.21,417.58 L537.34,417.51 L537.47,417.54 L537.60,417.48 L537.73,417.70 L537.86,417.58 L537.99,417.75 L538.12,417.48 L538.25,417.49 L538.38,417.47 L538.51,417.74 L538.64,417.57 L538.77,417.59 L538.90,417.71 L539.03,417.68 L539.16,417.42 L539.29,417.46 L539.42,417.67 L539.55,417.47 L539.68,417.53 L539.81,417.62 L539.94,417.53 L540.07,417.68 L540.20,417.66 L540.33,417.75 L540.46,417.53 L540.59,417.55 L540.72,417.50 L540.85,417.58 L540.98,417.60 L541.11,417.65 L541.24,417.50 L541.37,417.63 L541.50,417.55 L541.63,417.49 L541.76,417.60 L541.89,417.52 L542.02,417.73 L542.15,417.66 L542.28,417.46 L542.41,417.70 L542.54,417.73 L542.67,417.75 L542.81,417.49 L542.94,417.72 L543.07,417.60 L543.20,417.60 L543.33,417.48 L543.46,417.59 L543.59,417.57 L543.72,417.75 L543.85,417.48 L543.98,417.49 L544.11,417.54 L544.24,417.47 L544.37,417.54 L544.50,417.51 L544.63,417.46 L544.76,417.54 L544.89,417.75 L545.02,417.45 L545.15,417.41 L545.28,417.68 L545.41,417.73 L545.54,417.64 L545.67,417.72 L545.80,417.62 L545.93,417.71 L546.06,417.65 L546.19,417.69 L546.32,417.49 L546.45,417.44 L546.58,417.14 L546.71,417.04 L546.84,416.81 L546.97,416.15 L547.10,415.72 L547.23,415.30 L547.36,414.99 L547.49,414.52 L547.62,414.24 L547.75,414.16 L547.88,414.38 L548.01,414.50 L548.14,414.79 L548.27,415.28 L548.40,415.69 L548.53,416.16 L548.66,416.44 L548.79,416.57 L548.92,416.57 L549.05,416.46 L549.18,416.27 L549.31,415.71 L549.44,415.12 L549.57,414.39 L549.70,413.80 L549.83,413.35 L549.96,413.07 L550.09,412.89 L550.22,413.05 L550.35,413.27 L550.48,413.79 L550.61,414.64 L550.74,415.18 L550.87,415.66 L551.00,416.27 L551.13,416.60 L551.26,416.41 L551.39,416.22 L551.53,415.82 L551.66,415.21 L551.79,414.87 L551.92,414.66 L552.05,414.76 L552.18,415.36 L552.31,416.03 L552.44,416.45 L552.57,416.79 L552.70,417.15 L552.83,417.50 L552.96,417.38 L553.09,417.71 L553.22,417.70 L553.35,417.75 L553.48,417.73 L553.61,417.55 L553.74,417.49 L553.87,417.59 L554.00,417.48 L554.13,417.60 L554.26,417.44 L554.39,417.54 L554.52,417.57 L554.65,417.70 L554.78,417.61 L554.91,417.60 L555.04,417.47 L555.17,417.68 L555.30,417.65 L555.43,417.47 L555.56,417.73 L555.69,417.57 L555.82,417.68 L555.95,417.52 L556.08,417.55 L556.21,417.72 L556.34,417.50 L556.47,417.61 L556.60,417.64 L556.73,417.46 L556.86,417.49 L556.99,417.65 L557.12,417.52 L557.25,417.71 L557.38,417.58 L557.51,417.73 L557.64,417.53 L557.77,417.44 L557.90,417.53 L558.03,417.74 L558.16,417.58 L558.29,417.59 L558.42,417.60 L558.55,417.70 L558.68,417.66 L558.81,417.60 L558.94,417.73 L559.07,417.52 L559.20,417.67 L559.33,417.65 L559.46,417.72 L559.59,417.65 L559.72,417.43 L559.85,417.65 L559.98,417.72 L560.12,417.63 L560.25,417.43 L560.38,417.72 L560.51,417.64 L560.64,417.68 L560.77,417.52 L560.90,417.59 L561.03,417.72 L561.16,417.46 L561.29,417.64 L561.42,417.52 L561.55,417.60 L561.68,417.45 L561.81,417.73 L561.94,417.68 L562.07,417.66 L562.20,417.66 L562.33,417.47 L562.46,417.58 L562.59,417.63 L562.72,417.58 L562.85,417.46 L562.98,417.56 L563.11,417.60 L563.24,417.53 L563.37,417.54 L563.50,417.61 L563.63,417.61 L563.76,417.71 L563.89,417.60 L564.02,417.45 L564.15,417.65 L564.28,417.63 L564.41,417.55 L564.54,417.55 L564.67,417.69 L564.80,417.60 L564.93,417.50 L565.06,417.74 L565.19,417.72 L565.32,417.49 L565.45,417.44 L565.58,417.73 L565.71,417.73 L565.84,417.54 L565.97,417.66 L566.10,417.53 L566.23,417.74 L566.36,417.60 L566.49,417.70 L566.62,417.64 L566.75,417.51 L566.88,417.58 L567.01,417.46 L567.14,417.46 L567.27,417.54 L567.40,417.46 L567.53,417.69 L567.66,417.59 L567.79,417.64 L567.92,417.54 L568.05,417.72 L568.18,417.45 L568.31,417.63 L568.44,417.48 L568.57,417.43 L568.70,417.43 L568.84,417.62 L568.97,417.46 L569.10,417.41 L569.23,417.71 L569.36,417.50 L569.49,417.50 L569.62,417.60 L569.75,417.66 L569.88,417.69 L570.01,417.61 L570.14,417.43 L570.27,417.62 L570.40,417.67 L570.53,417.54 L570.66,417.60 L570.79,417.54 L570.92,417.60 L571.05,417.66 L571.18,417.74 L571.31,417.47 L571.44,417.53 L571.57,417.67 L571.70,417.58 L571.83,417.55 L571.96,417.58 L572.09,417.44 L572.22,417.49 L572.35,417.65 L572.48,417.64 L572.61,417.54 L572.74,417.70 L572.87,417.43 L573.00,417.74 L573.13,417.58 L573.26,417.66 L573.39,417.57 L573.52,417.74 L573.65,417.68 L573.78,417.41 L573.91,417.48 L574.04,417.68 L574.17,417.60 L574.30,417.74 L574.43,417.71 L574.56,417.69 L574.69,417.41 L574.82,417.65 L574.95,417.67 L575.08,417.73 L575.21,417.72 L575.34,417.41 L575.47,417.50 L575.60,417.44 L575.73,417.47 L575.86,417.48 L575.99,417.67 L576.12,417.70 L576.25,417.66 L576.38,417.73 L576.51,417.69 L576.64,417.51 L576.77,417.58 L576.90,417.75 L577.03,417.65 L577.16,417.46 L577.29,417.46 L577.42,417.50 L577.56,417.50 L577.69,417.44 L577.82,417.56 L577.95,417.62 L578.08,417.56 L578.21,417.66 L578.34,417.74 L578.47,417.66 L578.60,417.60 L578.73,417.71 L578.86,417.73 L578.99,417.67 L579.12,417.63 L579.25,417.42 L579.38,417.59 L579.51,417.47 L579.64,417.50 L579.77,417.55 L579.90,417.64 L580.03,417.62 L580.16,417.64 L580.29,417.54 L580.42,417.46 L580.55,417.48 L580.68,417.65 L580.81,417.70 L580.94,417.75 L581.07,417.55 L581.20,417.68 L581.33,417.75 L581.46,417.65 L581.59,417.68 L581.72,417.68 L581.85,417.52 L581.98,417.55 L582.11,417.66 L582.24,417.50 L582.37,417.68 L582.50,417.44 L582.63,417.71 L582.76,417.55 L582.89,417.51 L583.02,417.50 L583.15,417.59 L583.28,417.45 L583.41,417.54 L583.54,417.52 L583.67,417.73 L583.80,417.69 L583.93,417.59 L584.06,417.57 L584.19,417.72 L584.32,417.50 L584.45,417.63 L584.58,417.59 L584.71,417.57 L584.84,417.46 L584.97,417.65 L585.10,417.56 L585.23,417.55 L585.36,417.53 L585.49,417.65 L585.62,417.66 L585.75,417.59 L585.88,417.55 L586.01,417.53 L586.15,417.71 L586.28,417.60 L586.41,417.56 L586.54,417.69 L586.67,417.72 L586.80,417.43 L586.93,417.75 L587.06,417.58 L587.19,417.65 L587.32,417.74 L587.45,417.66 L587.58,417.70 L587.71,417.62 L587.84,417.44 L587.97,417.73 L588.10,417.63 L588.23,417.51 L588.36,417.54 L588.49,417.75 L588.62,417.68 L588.75,417.66 L588.88,417.45 L589.01,417.60 L589.14,417.67 L589.27,417.59 L589.40,417.59 L589.53,417.70 L589.66,417.52 L589.79,417.51 L589.92,417.59 L590.05,417.57 L590.18,417.49 L590.31,417.42 L590.44,417.54 L590.57,417.74 L590.70,417.58 L590.83,417.53 L590.96,417.64 L591.09,417.52 L591.22,417.63 L591.35,417.54 L591.48,417.54 L591.61,417.52 L591.74,417.43 L591.87,417.51 L592.00,417.51 L592.13,417.51 L592.26,417.67 L592.39,417.54 L592.52,417.54 L592.65,417.73 L592.78,417.49 L592.91,417.68 L593.04,417.58 L593.17,417.57 L593.30,417.50 L593.43,417.49 L593.56,417.59 L593.69,417.43 L593.82,417.60 L593.95,417.56 L594.08,417.41 L594.21,417.64 L594.34,417.51 L594.47,417.42 L594.60,417.73 L594.73,417.49 L594.87,417.53 L595.00,417.57 L595.13,417.48 L595.26,417.46 L595.39,417.70 L595.52,417.59 L595.65,417.54 L595.78,417.51 L595.91,417.42 L596.04,417.48 L596.17,417.47 L596.30,417.73 L596.43,417.61 L596.56,417.44 L596.69,417.43 L596.82,417.49 L596.95,417.64 L597.08,417.49 L597.21,417.57 L597.34,417.52 L597.47,417.53 L597.60,417.46 L597.73,417.51 L597.86,417.42 L597.99,417.58 L598.12,417.58 L598.25,417.53 L598.38,417.56 L598.51,417.74 L598.64,417.42 L598.77,417.64 L598.90,417.58 L599.03,417.74 L599.16,417.69 L599.29,417.43 L599.42,417.66 L599.55,417.65 L599.68,417.47 L599.81,417.67 L599.94,417.52 L600.07,417.56 L600.20,417.44 L600.33,417.59 L600.46,417.64 L600.59,417.66 L600.72,417.63 L600.85,417.75 L600.98,417.71 L601.11,417.70 L601.24,417.65 L601.37,417.49 L601.50,417.43 L601.63,417.63 L601.76,417.67 L601.89,417.65 L602.02,417.54 L602.15,417.59 L602.28,417.71 L602.41,417.57 L602.54,417.66 L602.67,417.70 L602.80,417.48 L602.93,417.71 L603.06,417.59 L603.19,417.46 L603.32,417.49 L603.46,417.23 L603.59,416.95 L603.72,415.43 L603.85,413.05 L603.98,408.69 L604.11,404.79 L604.24,403.02 L604.37,404.28 L604.50,407.52 L604.63,411.11 L604.76,413.24 L604.89,413.98 L605.02,414.25 L605.15,413.87 L605.28,413.53 L605.41,413.19 L605.54,413.12 L605.67,413.45 L605.80,413.35 L605.93,413.79 L606.06,414.16 L606.19,414.30 L606.32,413.57 L606.45,411.73 L606.58,408.75 L606.71,405.78 L606.84,404.43 L606.97,406.29 L607.10,409.93 L607.23,413.34 L607.36,415.90 L607.49,416.98 L607.62,417.52 L607.75,417.60 L607.88,417.38 L608.01,417.52 L608.14,417.57 L608.27,417.52 L608.40,417.52 L608.53,417.57 L608.66,417.63 L608.79,417.70 L608.92,417.74 L609.05,417.71 L609.18,417.61 L609.31,417.75 L609.44,417.52 L609.57,417.64 L609.70,417.67 L609.83,417.65 L609.96,417.58 L610.09,417.68 L610.22,417.46 L610.35,417.59 L610.48,417.73 L610.61,417.72 L610.74,417.45 L610.87,417.55 L611.00,417.65 L611.13,417.51 L611.26,417.74 L611.39,417.45 L611.52,417.43 L611.65,417.52 L611.78,417.74 L611.91,417.61 L612.04,417.47 L612.18,417.55 L612.31,417.68 L612.44,417.67 L612.57,417.73 L612.70,417.57 L612.83,417.69 L612.96,417.60 L613.09,417.44 L613.22,417.44 L613.35,417.58 L613.48,417.48 L613.61,417.71 L613.74,417.43 L613.87,417.46 L614.00,417.59 L614.13,417.45 L614.26,417.65 L614.39,417.42 L614.52,417.64 L614.65,417.43 L614.78,417.47 L614.91,417.43 L615.04,417.50 L615.17,417.73 L615.30,417.66 L615.43,417.53 L615.56,417.44 L615.69,417.52 L615.82,417.74 L615.95,417.63 L616.08,417.64 L616.21,417.70 L616.34,417.68 L616.47,417.58 L616.60,417.63 L616.73,417.66 L616.86,417.61 L616.99,417.43 L617.12,417.55 L617.25,417.49 L617.38,417.43 L617.51,417.74 L617.64,417.45 L617.77,417.72 L617.90,417.69 L618.03,417.50 L618.16,417.49 L618.29,417.54 L618.42,417.59 L618.55,417.50 L618.68,417.61 L618.81,417.69 L618.94,417.68 L619.07,417.72 L619.20,417.74 L619.33,417.43 L619.46,417.43 L619.59,417.63 L619.72,417.61 L619.85,417.66 L619.98,417.48 L620.11,417.58 L620.24,417.70 L620.37,417.45 L620.50,417.43 L620.63,417.74 L620.76,417.60 L620.90,417.68 L621.03,417.53 L621.16,417.63 L621.29,417.65 L621.42,417.65 L621.55,417.54 L621.68,417.58 L621.81,417.59 L621.94,417.52 L622.07,417.59 L622.20,417.43 L622.33,417.60 L622.46,417.48 L622.59,417.43 L622.72,417.54 L622.85,417.55 L622.98,417.48 L623.11,417.51 L623.24,417.69 L623.37,417.61 L623.50,417.70 L623.63,417.75 L623.76,417.52 L623.89,417.64 L624.02,417.67 L624.15,417.75 L624.28,417.75 L624.41,417.52 L624.54,417.63 L624.67,417.60 L624.80,417.52 L624.93,417.44 L625.06,417.51 L625.19,417.68 L625.32,417.41 L625.45,417.69 L625.58,417.55 L625.71,417.53 L625.84,417.66 L625.97,417.45 L626.10,417.54 L626.23,417.51 L626.36,417.71 L626.49,417.47 L626.62,417.66 L626.75,417.54 L626.88,417.50 L627.01,417.64 L627.14,417.66 L627.27,417.64 L627.40,417.42 L627.53,417.53 L627.66,417.59 L627.79,417.56 L627.92,417.53 L628.05,417.66 L628.18,417.73 L628.31,417.72 L628.44,417.55 L628.57,417.55 L628.70,417.42 L628.83,417.54 L628.96,417.46 L629.09,417.41 L629.22,417.58 L629.35,417.61 L629.49,417.59 L629.62,417.63 L629.75,417.49 L629.88,417.56 L630.01,417.71 L630.14,417.42 L630.27,417.57 L630.40,417.50 L630.53,417.57 L630.66,417.55 L630.79,417.56 L630.92,417.71 L631.05,417.71 L631.18,417.50 L631.31,417.63 L631.44,417.71 L631.57,417.47 L631.70,417.50 L631.83,417.49 L631.96,417.62 L632.09,417.71 L632.22,417.49 L632.35,417.68 L632.48,417.52 L632.61,417.51 L632.74,417.66 L632.87,417.75 L633.00,417.55 L633.13,417.48 L633.26,417.55 L633.39,417.41 L633.52,417.68 L633.65,417.50 L633.78,417.60 L633.91,417.55 L634.04,417.65 L634.17,417.67 L634.30,417.56 L634.43,417.54 L634.56,417.44 L634.69,417.55 L634.82,417.58 L634.95,417.53 L635.08,417.54 L635.21,417.61 L635.34,417.66 L635.47,417.52 L635.60,417.62 L635.73,417.74 L635.86,417.70 L635.99,417.63 L636.12,417.52 L636.25,417.53 L636.38,417.58 L636.51,417.47 L636.64,417.64 L636.77,417.63 L636.90,417.49 L637.03,417.52 L637.16,417.61 L637.29,417.45 L637.42,417.75 L637.55,417.57 L637.68,417.46 L637.81,417.45 L637.94,417.69 L638.07,417.48 L638.21,417.57 L638.34,417.43 L638.47,417.64 L638.60,417.52 L638.73,417.53 L638.86,417.41 L638.99,417.64 L639.12,417.62 L639.25,417.71 L639.38,417.52 L639.51,417.73 L639.64,417.46 L639.77,417.70 L639.90,417.69 L640.03,417.43 L640.16,417.58 L640.29,417.49 L640.42,417.63 L640.55,417.67 L640.68,417.63 L640.81,417.41 L640.94,417.69 L641.07,417.44 L641.20,417.45 L641.33,417.52 L641.46,417.66 L641.59,417.50 L641.72,417.44 L641.85,417.55 L641.98,417.68 L642.11,417.54 L642.24,417.42 L642.37,417.55 L642.50,417.70" stroke="#2e2e2e" stroke-width="1.2" fill="none" stroke-linejoin="round"/>
<line x1="382.50" y1="418.10" x2="382.50" y2="279.86" stroke="#2e2e2e" stroke-width="1.8" />
<line x1="381.80" y1="418.40" x2="643.50" y2="418.40" stroke="#c8c8c8" stroke-width="1" />
<line x1="643.50" y1="262.60" x2="643.50" y2="418.40" stroke="#c8c8c8" stroke-width="1" />
<line x1="381.50" y1="262.60" x2="643.50" y2="262.60" stroke="#505050" stroke-width="1.3" />
<line x1="381.80" y1="262.60" x2="381.80" y2="418.70" stroke="#505050" stroke-width="1.3" />
<line x1="376.60" y1="418.10" x2="380.80" y2="418.10" stroke="#333" stroke-width="1.3" />
<text x="369.62" y="421.75" font-size="10.5" textLength="4.88" lengthAdjust="spacingAndGlyphs" fill="#262626" stroke="#262626" stroke-width="0.55" >0</text>
<line x1="376.60" y1="400.82" x2="380.80" y2="400.82" stroke="#333" stroke-width="1.3" />
<text x="362.12" y="404.47" font-size="10.5" textLength="12.38" lengthAdjust="spacingAndGlyphs" fill="#262626" stroke="#262626" stroke-width="0.55" >0.2</text>
<line x1="376.60" y1="383.54" x2="380.80" y2="383.54" stroke="#333" stroke-width="1.3" />
<text x="362.12" y="387.19" font-size="10.5" textLength="12.38" lengthAdjust="spacingAndGlyphs" fill="#262626" stroke="#262626" stroke-width="0.55" >0.4</text>
<line x1="376.60" y1="366.26" x2="380.80" y2="366.26" stroke="#333" stroke-width="1.3" />
<text x="362.12" y="369.91" font-size="10.5" textLength="12.38" lengthAdjust="spacingAndGlyphs" fill="#262626" stroke="#262626" stroke-width="0.55" >0.6</text>
<line x1="376.60" y1="348.98" x2="380.80" y2="348.98" stroke="#333" stroke-width="1.3" />
<text x="362.12" y="352.63" font-size="10.5" textLength="12.38" lengthAdjust="spacingAndGlyphs" fill="#262626" stroke="#262626" stroke-width="0.55" >0.8</text>
<line x1="376.60" y1="331.70" x2="380.80" y2="331.70" stroke="#333" stroke-width="1.3" />
<text x="369.62" y="335.35" font-size="10.5" textLength="4.88" lengthAdjust="spacingAndGlyphs" fill="#262626" stroke="#262626" stroke-width="0.55" >1</text>
<line x1="376.60" y1="314.42" x2="380.80" y2="314.42" stroke="#333" stroke-width="1.3" />
<text x="362.12" y="318.07" font-size="10.5" textLength="12.38" lengthAdjust="spacingAndGlyphs" fill="#262626" stroke="#262626" stroke-width="0.55" >1.2</text>
<line x1="376.60" y1="297.14" x2="380.80" y2="297.14" stroke="#333" stroke-width="1.3" />
<text x="362.12" y="300.79" font-size="10.5" textLength="12.38" lengthAdjust="spacingAndGlyphs" fill="#262626" stroke="#262626" stroke-width="0.55" >1.4</text>
<line x1="376.60" y1="279.86" x2="380.80" y2="279.86" stroke="#333" stroke-width="1.3" />
<text x="362.12" y="283.51" font-size="10.5" textLength="12.38" lengthAdjust="spacingAndGlyphs" fill="#262626" stroke="#262626" stroke-width="0.55" >1.6</text>
<line x1="376.60" y1="262.58" x2="380.80" y2="262.58" stroke="#333" stroke-width="1.3" />
<text x="362.12" y="266.23" font-size="10.5" textLength="12.38" lengthAdjust="spacingAndGlyphs" fill="#262626" stroke="#262626" stroke-width="0.55" >1.8</text>
<line x1="382.20" y1="420.40" x2="382.20" y2="424.20" stroke="#333" stroke-width="1.3" />
<text x="379.76" y="434.40" font-size="10.5" textLength="4.88" lengthAdjust="spacingAndGlyphs" fill="#262626" stroke="#262626" stroke-width="0.55" >0</text>
<line x1="408.23" y1="420.40" x2="408.23" y2="424.20" stroke="#333" stroke-width="1.3" />
<text x="400.92" y="434.40" font-size="10.5" textLength="14.63" lengthAdjust="spacingAndGlyphs" fill="#262626" stroke="#262626" stroke-width="0.55" >100</text>
<line x1="434.26" y1="420.40" x2="434.26" y2="424.20" stroke="#333" stroke-width="1.3" />
<text x="426.95" y="434.40" font-size="10.5" textLength="14.63" lengthAdjust="spacingAndGlyphs" fill="#262626" stroke="#262626" stroke-width="0.55" >200</text>
<line x1="460.29" y1="420.40" x2="460.29" y2="424.20" stroke="#333" stroke-width="1.3" />
<text x="452.98" y="434.40" font-size="10.5" textLength="14.63" lengthAdjust="spacingAndGlyphs" fill="#262626" stroke="#262626" stroke-width="0.55" >300</text>
<line x1="486.32" y1="420.40" x2="486.32" y2="424.20" stroke="#333" stroke-width="1.3" />
<text x="479.01" y="434.40" font-size="10.5" textLength="14.63" lengthAdjust="spacingAndGlyphs" fill="#262626" stroke="#262626" stroke-width="0.55" >400</text>
<line x1="512.35" y1="420.40" x2="512.35" y2="424.20" stroke="#333" stroke-width="1.3" />
<text x="505.04" y="434.40" font-size="10.5" textLength="14.63" lengthAdjust="spacingAndGlyphs" fill="#262626" stroke="#262626" stroke-width="0.55" >500</text>
<line x1="538.38" y1="420.40" x2="538.38" y2="424.20" stroke="#333" stroke-width="1.3" />
<text x="531.07" y="434.40" font-size="10.5" textLength="14.63" lengthAdjust="spacingAndGlyphs" fill="#262626" stroke="#262626" stroke-width="0.55" >600</text>
<line x1="564.41" y1="420.40" x2="564.41" y2="424.20" stroke="#333" stroke-width="1.3" />
<text x="557.10" y="434.40" font-size="10.5" textLength="14.63" lengthAdjust="spacingAndGlyphs" fill="#262626" stroke="#262626" stroke-width="0.55" >700</text>
<line x1="590.44" y1="420.40" x2="590.44" y2="424.20" stroke="#333" stroke-width="1.3" />
<text x="583.13" y="434.40" font-size="10.5" textLength="14.63" lengthAdjust="spacingAndGlyphs" fill="#262626" stroke="#262626" stroke-width="0.55" >800</text>
<line x1="616.47" y1="420.40" x2="616.47" y2="424.20" stroke="#333" stroke-width="1.3" />
<text x="609.16" y="434.40" font-size="10.5" textLength="14.63" lengthAdjust="spacingAndGlyphs" fill="#262626" stroke="#262626" stroke-width="0.55" >900</text>
<line x1="642.50" y1="420.40" x2="642.50" y2="424.20" stroke="#333" stroke-width="1.3" />
<text x="632.75" y="434.40" font-size="10.5" textLength="19.50" lengthAdjust="spacingAndGlyphs" fill="#262626" stroke="#262626" stroke-width="0.55" >1000</text>
<text x="490.60" y="448.00" font-size="10.5" textLength="45.50" lengthAdjust="spacingAndGlyphs" fill="#262626" stroke="#262626" stroke-width="0.55" >Frequency</text>
<g transform="translate(352.00,341.00) rotate(-90)">
<text x="-23.00" y="3.30" font-size="10.5" textLength="46.00" lengthAdjust="spacingAndGlyphs" fill="#262626" stroke="#262626" stroke-width="0.55" >Amplitude</text>
</g>
<rect x="676.70" y="258.00" width="300.50" height="201.00" rx="3" fill="none" stroke="rgba(0,0,0,0.18)" stroke-width="1.6" />
<rect x="675.50" y="256.80" width="300.50" height="201.00" rx="3" fill="#f2f2f2" stroke="#444444" stroke-width="1.6" />
<text x="672.30" y="250.00" font-size="10.5" textLength="120.10" lengthAdjust="spacingAndGlyphs" fill="#262626" stroke="#262626" stroke-width="0.55" >Envelope Spectrum in order</text>
<rect x="798.40" y="232.80" width="178.00" height="22.20" rx="3.5" fill="none" stroke="rgba(0,0,0,0.18)" stroke-width="1.6" />
<rect x="797.20" y="231.60" width="178.00" height="22.20" rx="3.5" fill="#f3f3f3" stroke="#444444" stroke-width="1.7" />
<text x="809.40" y="247.10" font-size="10.5" textLength="124.10" lengthAdjust="spacingAndGlyphs" fill="#262626" stroke="#262626" stroke-width="0.55" >Envelope Spectrum by Order</text>
<rect x="942.20" y="235.70" width="24.10" height="14.90" rx="0" fill="#f6f6f8" />
<line x1="942.20" y1="250.60" x2="966.30" y2="250.60" stroke="#c8c8c8" stroke-width="1.2" />
<line x1="966.30" y1="235.70" x2="966.30" y2="250.60" stroke="#c8c8c8" stroke-width="1.2" />
<line x1="942.20" y1="235.70" x2="966.30" y2="235.70" stroke="#505050" stroke-width="1.2" />
<line x1="942.20" y1="235.70" x2="942.20" y2="250.60" stroke="#505050" stroke-width="1.2" />
<path d="M943.67,246.49 L950.69,238.17 L957.71,246.49 L964.73,237.86" fill="none" stroke="#3a3a3a" stroke-width="1.5" stroke-linejoin="miter"/>
<rect x="732.50" y="262.30" width="227.00" height="156.10" rx="0" fill="#fdfdfd" />
<path d="M742.30,262.30V418.40M761.10,262.30V418.40M779.90,262.30V418.40M798.70,262.30V418.40M817.50,262.30V418.40M836.30,262.30V418.40M855.10,262.30V418.40M873.90,262.30V418.40M892.70,262.30V418.40M911.50,262.30V418.40M930.30,262.30V418.40M949.10,262.30V418.40M732.50,413.91H959.50M732.50,410.02H959.50M732.50,406.14H959.50M732.50,402.25H959.50M732.50,394.47H959.50M732.50,390.58H959.50M732.50,386.70H959.50M732.50,382.81H959.50M732.50,375.03H959.50M732.50,371.14H959.50M732.50,367.26H959.50M732.50,363.37H959.50M732.50,355.59H959.50M732.50,351.70H959.50M732.50,347.82H959.50M732.50,343.93H959.50M732.50,336.15H959.50M732.50,332.26H959.50M732.50,328.38H959.50M732.50,324.49H959.50M732.50,316.71H959.50M732.50,312.82H959.50M732.50,308.94H959.50M732.50,305.05H959.50M732.50,297.27H959.50M732.50,293.38H959.50M732.50,289.50H959.50M732.50,285.61H959.50M732.50,277.83H959.50M732.50,273.94H959.50M732.50,270.06H959.50M732.50,266.17H959.50" stroke="#e0e0e0" stroke-width="1" fill="none"/>
<path d="M751.70,262.30V418.40M770.50,262.30V418.40M789.30,262.30V418.40M808.10,262.30V418.40M826.90,262.30V418.40M845.70,262.30V418.40M864.50,262.30V418.40M883.30,262.30V418.40M902.10,262.30V418.40M920.90,262.30V418.40M939.70,262.30V418.40M732.50,398.36H959.50M732.50,378.92H959.50M732.50,359.48H959.50M732.50,340.04H959.50M732.50,320.60H959.50M732.50,301.16H959.50M732.50,281.72H959.50" stroke="#c8c8c8" stroke-width="1" fill="none"/>
<path d="M733.60,401.65V400.59M734.10,400.22V389.30M736.60,401.90V392.03M738.60,400.24V398.17M744.10,403.41V396.10M745.10,405.66V395.53M747.10,403.97V395.19M749.60,406.27V404.02M752.60,404.93V400.05M756.60,405.33V402.95M758.10,404.52V403.09M759.10,404.80V398.27M759.60,405.75V404.28M760.10,407.41V404.99M761.10,404.52V396.49M762.10,404.44V398.90M763.10,407.55V406.32M766.60,406.23V398.79M768.60,405.46V401.25M769.10,405.23V403.22M770.10,405.67V404.23M772.60,408.50V404.94M773.10,406.23V404.61M777.60,408.62V402.54M779.10,409.41V407.95M779.60,406.66V405.35M780.10,406.27V399.82M782.10,408.00V402.98M782.60,406.33V402.93M783.10,406.81V404.98M786.60,407.91V406.63M787.60,408.79V406.93M788.10,409.77V408.05M788.60,407.93V403.58M789.60,409.64V406.87M790.60,409.50V400.55M793.10,409.14V404.80M794.10,410.04V408.50M795.10,410.07V407.63M795.60,408.38V402.73M796.60,408.66V406.18M799.60,408.56V404.74M800.10,409.02V404.51M803.10,411.07V409.09M804.10,409.36V407.90M806.10,411.54V407.06M807.60,408.99V407.75M814.60,411.33V408.75M815.60,408.92V404.35M819.60,409.69V408.59M820.10,411.84V409.30M821.60,409.75V403.64M822.60,410.49V409.49M823.10,411.50V409.14M823.60,411.56V409.41M824.10,411.65V410.25M824.60,410.67V408.36M825.10,410.94V408.80M826.60,411.73V410.44M827.10,412.08V407.70M827.60,410.83V409.21M829.10,409.35V408.28M829.60,412.03V410.91M830.10,410.33V403.96M831.10,409.50V406.49M831.60,409.50V404.42M832.10,412.02V408.57M836.60,410.46V405.54M838.10,411.52V409.45M839.60,411.83V408.67M840.10,410.84V404.46M841.60,411.03V409.86M842.10,410.20V404.56M842.60,412.03V409.74M845.60,411.35V409.48M848.10,412.44V405.98M851.10,411.84V410.64M852.60,411.89V408.12M853.10,410.54V408.82M853.60,411.50V407.57M854.60,410.17V408.41M855.60,411.65V409.38M856.10,410.14V408.57M856.60,410.37V407.83M857.10,411.15V409.68M858.10,410.43V409.01M858.60,412.64V411.53M859.10,411.12V409.54M859.60,410.38V409.29M860.60,410.07V408.77M861.60,410.30V408.92M863.60,411.49V410.08M866.60,410.01V407.27M867.10,411.11V407.58M868.60,409.93V404.74M870.60,411.87V404.74M871.10,412.45V411.28M872.10,410.87V409.20M872.60,409.93V407.58M873.10,411.91V410.36M874.60,410.83V406.92M876.10,411.13V409.11M876.60,409.79V408.47M878.10,409.64V407.73M879.10,411.57V407.67M881.10,409.59V404.11M881.60,409.83V408.34M882.60,409.65V404.23M883.60,410.64V407.94M889.60,409.19V403.76M892.60,408.86V407.28M893.10,410.49V409.29M893.60,410.63V407.79M895.10,410.12V404.04M896.60,409.49V407.44M897.10,411.47V409.69M899.60,407.91V405.29M901.60,410.93V403.05M902.10,409.37V407.70M903.60,409.26V402.39M905.10,407.99V406.83M905.60,409.49V403.20M907.10,410.21V407.41M908.60,410.26V406.15M909.10,409.64V407.10M914.10,409.98V405.40M916.10,408.33V407.06M916.60,407.61V400.48M917.60,407.26V406.23M918.60,408.59V404.26M919.10,408.23V404.98M919.60,409.15V406.75M921.10,409.55V408.25M922.10,408.32V406.41M922.60,409.12V399.80M923.10,408.48V399.80M926.10,409.10V405.01M928.60,408.88V405.02M930.60,407.50V406.02M932.10,407.82V406.41M932.60,408.00V406.98M934.10,409.42V407.50M934.60,407.73V404.69M935.10,409.18V403.67M936.10,407.86V405.19M936.60,407.35V404.86M937.60,408.35V407.28M938.10,410.37V407.04M939.60,408.83V403.45M941.10,410.01V407.75M944.10,409.35V407.34M944.60,410.01V400.15M945.10,410.36V409.12M946.10,408.58V404.49M946.60,408.57V407.37M948.10,408.76V406.76M950.10,409.79V408.04M950.60,408.33V406.78M952.10,409.28V404.67M953.10,409.55V407.95M955.60,407.88V400.83M958.10,408.97V403.15M959.10,407.10V400.38" stroke="#7e7e7e" stroke-width="0.9" fill="none"/>
<path d="M733.10,402.91 L733.60,400.65 L734.10,399.22 L734.60,401.53 L735.10,400.51 L735.60,399.12 L736.10,400.37 L736.60,400.90 L737.10,401.65 L737.60,400.19 L738.10,399.69 L738.60,399.24 L739.10,398.74 L739.60,402.84 L740.10,402.56 L740.60,399.21 L741.10,399.53 L741.60,403.78 L742.10,399.30 L742.60,403.54 L743.10,403.11 L743.60,398.88 L744.10,402.41 L744.60,399.65 L745.10,404.66 L745.60,399.07 L746.10,403.17 L746.60,405.46 L747.10,402.97 L747.60,405.28 L748.10,405.46 L748.60,404.18 L749.10,404.32 L749.60,405.27 L750.10,402.63 L750.60,407.35 L751.10,407.33 L751.60,407.15 L752.10,404.19 L752.60,403.93 L753.10,402.87 L753.60,404.68 L754.10,406.04 L754.60,406.13 L755.10,407.45 L755.60,406.12 L756.10,406.48 L756.60,404.33 L757.10,403.71 L757.60,406.88 L758.10,403.52 L758.60,405.22 L759.10,403.80 L759.60,404.75 L760.10,406.41 L760.60,405.85 L761.10,403.52 L761.60,403.74 L762.10,403.44 L762.60,403.99 L763.10,406.55 L763.60,405.19 L764.10,407.72 L764.60,403.70 L765.10,405.32 L765.60,407.20 L766.10,405.61 L766.60,405.23 L767.10,405.87 L767.60,407.17 L768.10,407.31 L768.60,404.46 L769.10,404.23 L769.60,405.77 L770.10,404.67 L770.60,407.63 L771.10,404.41 L771.60,406.86 L772.10,405.43 L772.60,407.50 L773.10,405.23 L773.60,406.78 L774.10,406.80 L774.60,406.62 L775.10,405.49 L775.60,406.59 L776.10,405.63 L776.60,406.83 L777.10,407.10 L777.60,407.62 L778.10,405.97 L778.60,406.00 L779.10,408.41 L779.60,405.66 L780.10,405.27 L780.60,408.46 L781.10,405.57 L781.60,405.77 L782.10,407.00 L782.60,405.33 L783.10,405.81 L783.60,406.72 L784.10,407.76 L784.60,407.61 L785.10,405.45 L785.60,408.71 L786.10,406.74 L786.60,406.91 L787.10,406.55 L787.60,407.79 L788.10,408.77 L788.60,406.93 L789.10,408.04 L789.60,408.64 L790.10,408.24 L790.60,408.50 L791.10,407.94 L791.60,406.65 L792.10,408.01 L792.60,408.35 L793.10,408.14 L793.60,407.41 L794.10,409.04 L794.60,407.39 L795.10,409.07 L795.60,407.38 L796.10,409.00 L796.60,407.66 L797.10,408.38 L797.60,406.74 L798.10,409.76 L798.60,409.81 L799.10,409.90 L799.60,407.56 L800.10,408.02 L800.60,406.99 L801.10,409.97 L801.60,407.92 L802.10,409.80 L802.60,409.85 L803.10,410.07 L803.60,408.08 L804.10,408.36 L804.60,410.35 L805.10,408.79 L805.60,409.76 L806.10,410.54 L806.60,409.54 L807.10,408.96 L807.60,407.99 L808.10,410.43 L808.60,410.21 L809.10,408.41 L809.60,408.91 L810.10,410.22 L810.60,410.21 L811.10,410.77 L811.60,407.82 L812.10,409.02 L812.60,408.70 L813.10,409.36 L813.60,410.92 L814.10,409.37 L814.60,410.33 L815.10,408.90 L815.60,407.92 L816.10,409.01 L816.60,410.26 L817.10,408.07 L817.60,408.83 L818.10,409.14 L818.60,408.71 L819.10,408.13 L819.60,408.69 L820.10,410.84 L820.60,408.90 L821.10,409.08 L821.60,408.75 L822.10,408.89 L822.60,409.49 L823.10,410.50 L823.60,410.56 L824.10,410.65 L824.60,409.67 L825.10,409.94 L825.60,409.99 L826.10,410.55 L826.60,410.73 L827.10,411.08 L827.60,409.83 L828.10,410.46 L828.60,410.23 L829.10,408.35 L829.60,411.03 L830.10,409.33 L830.60,409.88 L831.10,408.50 L831.60,408.50 L832.10,411.02 L832.60,408.59 L833.10,409.19 L833.60,408.63 L834.10,410.72 L834.60,410.62 L835.10,409.63 L835.60,410.00 L836.10,411.39 L836.60,409.46 L837.10,409.58 L837.60,410.16 L838.10,410.52 L838.60,408.71 L839.10,411.20 L839.60,410.83 L840.10,409.84 L840.60,410.92 L841.10,409.30 L841.60,410.03 L842.10,409.20 L842.60,411.03 L843.10,410.97 L843.60,409.78 L844.10,410.64 L844.60,411.33 L845.10,409.33 L845.60,410.35 L846.10,410.29 L846.60,409.58 L847.10,409.95 L847.60,408.83 L848.10,411.44 L848.60,409.60 L849.10,409.93 L849.60,410.48 L850.10,408.96 L850.60,410.51 L851.10,410.84 L851.60,409.61 L852.10,409.85 L852.60,410.89 L853.10,409.54 L853.60,410.50 L854.10,409.67 L854.60,409.17 L855.10,410.35 L855.60,410.65 L856.10,409.14 L856.60,409.37 L857.10,410.15 L857.60,409.48 L858.10,409.43 L858.60,411.64 L859.10,410.12 L859.60,409.38 L860.10,410.45 L860.60,409.07 L861.10,409.51 L861.60,409.30 L862.10,411.63 L862.60,409.09 L863.10,409.02 L863.60,410.49 L864.10,409.72 L864.60,410.51 L865.10,409.38 L865.60,411.23 L866.10,410.50 L866.60,409.01 L867.10,410.11 L867.60,409.07 L868.10,410.62 L868.60,408.93 L869.10,411.16 L869.60,410.77 L870.10,408.98 L870.60,410.87 L871.10,411.45 L871.60,410.17 L872.10,409.87 L872.60,408.93 L873.10,410.91 L873.60,408.94 L874.10,411.17 L874.60,409.83 L875.10,411.17 L875.60,409.18 L876.10,410.13 L876.60,408.79 L877.10,411.24 L877.60,411.35 L878.10,408.64 L878.60,408.73 L879.10,410.57 L879.60,409.15 L880.10,409.84 L880.60,408.93 L881.10,408.59 L881.60,408.83 L882.10,411.17 L882.60,408.65 L883.10,408.85 L883.60,409.64 L884.10,409.86 L884.60,410.19 L885.10,410.17 L885.60,408.08 L886.10,408.50 L886.60,410.23 L887.10,408.74 L887.60,410.13 L888.10,409.48 L888.60,407.82 L889.10,408.96 L889.60,408.19 L890.10,409.64 L890.60,410.16 L891.10,409.43 L891.60,409.62 L892.10,409.46 L892.60,407.86 L893.10,409.49 L893.60,409.63 L894.10,407.59 L894.60,407.86 L895.10,409.12 L895.60,409.30 L896.10,409.58 L896.60,408.49 L897.10,410.47 L897.60,409.14 L898.10,408.28 L898.60,410.08 L899.10,410.10 L899.60,406.91 L900.10,408.86 L900.60,409.14 L901.10,407.17 L901.60,409.93 L902.10,408.37 L902.60,408.53 L903.10,409.16 L903.60,408.26 L904.10,409.65 L904.60,408.83 L905.10,406.99 L905.60,408.49 L906.10,409.25 L906.60,409.57 L907.10,409.21 L907.60,408.56 L908.10,409.73 L908.60,409.26 L909.10,408.64 L909.60,407.78 L910.10,409.05 L910.60,409.17 L911.10,407.79 L911.60,408.12 L912.10,406.52 L912.60,408.72 L913.10,408.87 L913.60,408.37 L914.10,408.98 L914.60,407.41 L915.10,406.36 L915.60,406.28 L916.10,407.33 L916.60,406.61 L917.10,406.10 L917.60,406.26 L918.10,406.84 L918.60,407.59 L919.10,407.23 L919.60,408.15 L920.10,408.61 L920.60,408.94 L921.10,408.55 L921.60,407.23 L922.10,407.32 L922.60,408.12 L923.10,407.48 L923.60,408.63 L924.10,408.58 L924.60,406.26 L925.10,408.99 L925.60,408.49 L926.10,408.10 L926.60,408.33 L927.10,405.98 L927.60,406.70 L928.10,408.39 L928.60,407.88 L929.10,408.58 L929.60,405.68 L930.10,407.96 L930.60,406.50 L931.10,405.59 L931.60,406.54 L932.10,406.82 L932.60,407.00 L933.10,409.12 L933.60,407.66 L934.10,408.42 L934.60,406.73 L935.10,408.18 L935.60,407.95 L936.10,406.86 L936.60,406.35 L937.10,409.10 L937.60,407.35 L938.10,409.37 L938.60,408.45 L939.10,406.91 L939.60,407.83 L940.10,407.55 L940.60,407.24 L941.10,409.01 L941.60,405.64 L942.10,407.65 L942.60,407.91 L943.10,409.50 L943.60,406.02 L944.10,408.35 L944.60,409.01 L945.10,409.36 L945.60,406.66 L946.10,407.58 L946.60,407.57 L947.10,406.94 L947.60,406.81 L948.10,407.76 L948.60,406.72 L949.10,408.58 L949.60,406.71 L950.10,408.79 L950.60,407.33 L951.10,409.20 L951.60,408.60 L952.10,408.28 L952.60,406.71 L953.10,408.55 L953.60,407.28 L954.10,409.20 L954.60,408.16 L955.10,408.84 L955.60,406.88 L956.10,406.56 L956.60,409.09 L957.10,409.16 L957.60,408.51 L958.10,407.97 L958.60,408.03 L959.10,406.10 L959.10,417.27 L958.60,417.20 L958.10,417.40 L957.60,416.57 L957.10,416.87 L956.60,416.66 L956.10,416.74 L955.60,416.50 L955.10,417.11 L954.60,416.98 L954.10,416.67 L953.60,416.82 L953.10,417.31 L952.60,417.14 L952.10,417.06 L951.60,416.54 L951.10,417.36 L950.60,416.85 L950.10,417.17 L949.60,416.45 L949.10,417.15 L948.60,417.27 L948.10,416.86 L947.60,416.91 L947.10,416.49 L946.60,416.44 L946.10,416.83 L945.60,416.95 L945.10,416.44 L944.60,416.84 L944.10,417.02 L943.60,417.51 L943.10,416.74 L942.60,417.55 L942.10,417.28 L941.60,417.42 L941.10,416.40 L940.60,416.84 L940.10,417.45 L939.60,417.21 L939.10,416.71 L938.60,416.68 L938.10,417.17 L937.60,416.87 L937.10,417.20 L936.60,417.16 L936.10,417.19 L935.60,416.63 L935.10,416.43 L934.60,417.37 L934.10,416.75 L933.60,416.41 L933.10,416.65 L932.60,416.54 L932.10,416.86 L931.60,417.39 L931.10,416.70 L930.60,416.49 L930.10,417.52 L929.60,416.58 L929.10,416.68 L928.60,417.51 L928.10,416.93 L927.60,417.07 L927.10,416.70 L926.60,416.97 L926.10,416.68 L925.60,417.03 L925.10,416.75 L924.60,416.71 L924.10,417.31 L923.60,416.90 L923.10,417.06 L922.60,416.47 L922.10,417.10 L921.60,416.49 L921.10,416.98 L920.60,417.50 L920.10,417.09 L919.60,416.72 L919.10,417.12 L918.60,416.91 L918.10,416.71 L917.60,416.69 L917.10,416.94 L916.60,416.92 L916.10,416.61 L915.60,417.05 L915.10,417.01 L914.60,417.44 L914.10,416.73 L913.60,416.41 L913.10,416.61 L912.60,416.52 L912.10,416.99 L911.60,417.50 L911.10,416.87 L910.60,416.69 L910.10,416.78 L909.60,417.28 L909.10,417.44 L908.60,417.27 L908.10,417.10 L907.60,416.57 L907.10,417.35 L906.60,416.50 L906.10,416.61 L905.60,417.20 L905.10,416.71 L904.60,416.67 L904.10,416.95 L903.60,417.33 L903.10,416.42 L902.60,416.57 L902.10,416.90 L901.60,416.82 L901.10,417.33 L900.60,417.08 L900.10,416.52 L899.60,417.49 L899.10,417.05 L898.60,416.42 L898.10,416.80 L897.60,416.97 L897.10,416.60 L896.60,417.47 L896.10,417.35 L895.60,417.01 L895.10,416.77 L894.60,416.59 L894.10,416.94 L893.60,417.24 L893.10,416.85 L892.60,416.89 L892.10,417.13 L891.60,417.22 L891.10,416.55 L890.60,416.93 L890.10,416.42 L889.60,416.66 L889.10,417.49 L888.60,416.95 L888.10,416.95 L887.60,416.44 L887.10,417.17 L886.60,417.42 L886.10,417.23 L885.60,416.47 L885.10,417.15 L884.60,416.98 L884.10,417.40 L883.60,416.67 L883.10,416.41 L882.60,417.43 L882.10,416.43 L881.60,417.37 L881.10,416.58 L880.60,417.33 L880.10,417.05 L879.60,416.90 L879.10,417.54 L878.60,417.00 L878.10,416.42 L877.60,417.34 L877.10,417.16 L876.60,417.24 L876.10,417.12 L875.60,417.51 L875.10,417.35 L874.60,417.40 L874.10,416.41 L873.60,417.40 L873.10,416.93 L872.60,417.49 L872.10,416.61 L871.60,416.70 L871.10,417.30 L870.60,417.41 L870.10,417.20 L869.60,417.25 L869.10,417.12 L868.60,416.82 L868.10,416.97 L867.60,417.45 L867.10,417.00 L866.60,416.85 L866.10,416.57 L865.60,417.20 L865.10,417.04 L864.60,417.16 L864.10,416.41 L863.60,416.96 L863.10,416.62 L862.60,417.02 L862.10,416.82 L861.60,416.92 L861.10,416.65 L860.60,416.62 L860.10,416.83 L859.60,417.08 L859.10,417.46 L858.60,417.06 L858.10,416.42 L857.60,417.02 L857.10,417.37 L856.60,417.55 L856.10,416.63 L855.60,416.57 L855.10,416.95 L854.60,417.13 L854.10,416.43 L853.60,417.48 L853.10,417.23 L852.60,417.06 L852.10,417.52 L851.60,417.22 L851.10,416.48 L850.60,416.40 L850.10,417.00 L849.60,416.46 L849.10,416.48 L848.60,416.55 L848.10,417.31 L847.60,417.18 L847.10,417.32 L846.60,417.07 L846.10,417.48 L845.60,416.72 L845.10,417.33 L844.60,416.59 L844.10,416.86 L843.60,416.68 L843.10,416.60 L842.60,416.52 L842.10,417.44 L841.60,417.35 L841.10,416.86 L840.60,416.91 L840.10,417.55 L839.60,417.51 L839.10,417.47 L838.60,417.44 L838.10,417.14 L837.60,416.52 L837.10,416.54 L836.60,417.45 L836.10,417.02 L835.60,417.39 L835.10,416.74 L834.60,417.37 L834.10,416.66 L833.60,417.14 L833.10,416.59 L832.60,417.36 L832.10,417.11 L831.60,417.46 L831.10,417.53 L830.60,416.63 L830.10,416.52 L829.60,417.37 L829.10,416.88 L828.60,417.46 L828.10,416.62 L827.60,416.48 L827.10,416.72 L826.60,416.84 L826.10,417.46 L825.60,417.54 L825.10,416.75 L824.60,417.50 L824.10,417.53 L823.60,417.32 L823.10,416.65 L822.60,416.87 L822.10,417.14 L821.60,417.10 L821.10,417.21 L820.60,416.94 L820.10,417.33 L819.60,417.00 L819.10,416.56 L818.60,417.17 L818.10,416.49 L817.60,417.41 L817.10,417.19 L816.60,417.48 L816.10,417.51 L815.60,416.53 L815.10,417.05 L814.60,416.95 L814.10,416.96 L813.60,416.67 L813.10,416.87 L812.60,417.22 L812.10,416.83 L811.60,417.12 L811.10,416.63 L810.60,417.27 L810.10,416.95 L809.60,417.40 L809.10,416.62 L808.60,417.35 L808.10,416.66 L807.60,417.44 L807.10,416.67 L806.60,417.18 L806.10,416.98 L805.60,417.12 L805.10,416.70 L804.60,416.73 L804.10,417.03 L803.60,416.87 L803.10,416.48 L802.60,416.53 L802.10,416.81 L801.60,416.78 L801.10,416.99 L800.60,416.78 L800.10,416.63 L799.60,416.68 L799.10,416.47 L798.60,416.53 L798.10,417.25 L797.60,417.11 L797.10,417.32 L796.60,417.56 L796.10,417.15 L795.60,417.47 L795.10,416.56 L794.60,416.57 L794.10,417.35 L793.60,416.45 L793.10,417.30 L792.60,416.71 L792.10,416.73 L791.60,416.61 L791.10,416.87 L790.60,416.66 L790.10,417.37 L789.60,417.31 L789.10,416.57 L788.60,416.45 L788.10,416.88 L787.60,416.73 L787.10,416.50 L786.60,416.52 L786.10,416.96 L785.60,416.76 L785.10,417.09 L784.60,417.47 L784.10,417.10 L783.60,416.69 L783.10,417.28 L782.60,417.50 L782.10,416.73 L781.60,417.52 L781.10,416.46 L780.60,416.58 L780.10,417.36 L779.60,417.52 L779.10,416.88 L778.60,416.71 L778.10,416.53 L777.60,417.03 L777.10,416.52 L776.60,416.54 L776.10,417.48 L775.60,417.28 L775.10,417.08 L774.60,417.13 L774.10,416.63 L773.60,416.86 L773.10,417.12 L772.60,417.18 L772.10,416.88 L771.60,417.20 L771.10,417.47 L770.60,417.49 L770.10,417.56 L769.60,417.07 L769.10,417.51 L768.60,416.61 L768.10,416.64 L767.60,416.94 L767.10,416.65 L766.60,417.17 L766.10,417.08 L765.60,417.22 L765.10,417.55 L764.60,416.52 L764.10,416.51 L763.60,417.23 L763.10,417.17 L762.60,416.79 L762.10,416.49 L761.60,416.42 L761.10,417.38 L760.60,417.08 L760.10,416.64 L759.60,416.63 L759.10,417.35 L758.60,417.34 L758.10,417.04 L757.60,417.17 L757.10,417.06 L756.60,417.45 L756.10,417.35 L755.60,417.31 L755.10,416.90 L754.60,417.13 L754.10,417.14 L753.60,417.19 L753.10,417.27 L752.60,417.54 L752.10,417.16 L751.60,416.83 L751.10,416.85 L750.60,417.08 L750.10,416.96 L749.60,416.73 L749.10,416.47 L748.60,416.87 L748.10,417.03 L747.60,416.45 L747.10,417.38 L746.60,417.34 L746.10,417.48 L745.60,416.98 L745.10,416.73 L744.60,417.52 L744.10,417.39 L743.60,417.46 L743.10,417.49 L742.60,416.60 L742.10,416.90 L741.60,416.56 L741.10,416.41 L740.60,416.77 L740.10,416.88 L739.60,416.98 L739.10,417.06 L738.60,417.45 L738.10,417.05 L737.60,416.49 L737.10,416.73 L736.60,417.22 L736.10,417.49 L735.60,416.96 L735.10,417.39 L734.60,416.59 L734.10,417.26 L733.60,416.84 L733.10,416.93 Z" fill="#454545"/>
<line x1="733.50" y1="413.91" x2="733.50" y2="382.81" stroke="#404040" stroke-width="1.0" />
<line x1="736.50" y1="413.91" x2="736.50" y2="389.81" stroke="#404040" stroke-width="1.0" />
<line x1="739.50" y1="413.91" x2="739.50" y2="394.47" stroke="#404040" stroke-width="1.0" />
<line x1="742.50" y1="413.91" x2="742.50" y2="396.80" stroke="#404040" stroke-width="1.0" />
<line x1="747.50" y1="413.91" x2="747.50" y2="396.80" stroke="#404040" stroke-width="1.0" />
<line x1="746.50" y1="415.47" x2="746.50" y2="262.30" stroke="#484848" stroke-width="1.0" />
<line x1="763.50" y1="415.47" x2="763.50" y2="262.30" stroke="#9a9a9a" stroke-width="1.0" />
<line x1="773.50" y1="415.47" x2="773.50" y2="262.30" stroke="#404040" stroke-width="1.0" />
<line x1="794.50" y1="415.47" x2="794.50" y2="319.04" stroke="#3c3c3c" stroke-width="1.0" />
<line x1="825.50" y1="415.47" x2="825.50" y2="343.93" stroke="#3c3c3c" stroke-width="1.0" />
<line x1="855.50" y1="415.47" x2="855.50" y2="396.80" stroke="#4a4a4a" stroke-width="1.0" />
<line x1="885.50" y1="415.47" x2="885.50" y2="386.31" stroke="#3c3c3c" stroke-width="1.0" />
<line x1="886.50" y1="415.47" x2="886.50" y2="392.14" stroke="#4a4a4a" stroke-width="1.0" />
<line x1="916.50" y1="415.47" x2="916.50" y2="310.88" stroke="#303030" stroke-width="1.0" />
<line x1="946.50" y1="415.47" x2="946.50" y2="389.81" stroke="#4a4a4a" stroke-width="1.0" />
<line x1="732.50" y1="418.40" x2="959.50" y2="418.40" stroke="#c8c8c8" stroke-width="1" />
<line x1="959.50" y1="262.30" x2="959.50" y2="418.40" stroke="#c8c8c8" stroke-width="1" />
<line x1="732.20" y1="262.30" x2="959.50" y2="262.30" stroke="#505050" stroke-width="1.3" />
<line x1="732.50" y1="262.30" x2="732.50" y2="418.70" stroke="#505050" stroke-width="1.3" />
<line x1="727.30" y1="417.80" x2="731.50" y2="417.80" stroke="#333" stroke-width="1.3" />
<text x="720.32" y="421.45" font-size="10.5" textLength="4.88" lengthAdjust="spacingAndGlyphs" fill="#262626" stroke="#262626" stroke-width="0.55" >0</text>
<line x1="727.30" y1="398.36" x2="731.50" y2="398.36" stroke="#333" stroke-width="1.3" />
<text x="707.95" y="402.01" font-size="10.5" textLength="17.25" lengthAdjust="spacingAndGlyphs" fill="#262626" stroke="#262626" stroke-width="0.55" >0.25</text>
<line x1="727.30" y1="378.92" x2="731.50" y2="378.92" stroke="#333" stroke-width="1.3" />
<text x="712.82" y="382.57" font-size="10.5" textLength="12.38" lengthAdjust="spacingAndGlyphs" fill="#262626" stroke="#262626" stroke-width="0.55" >0.5</text>
<line x1="727.30" y1="359.48" x2="731.50" y2="359.48" stroke="#333" stroke-width="1.3" />
<text x="707.95" y="363.13" font-size="10.5" textLength="17.25" lengthAdjust="spacingAndGlyphs" fill="#262626" stroke="#262626" stroke-width="0.55" >0.75</text>
<line x1="727.30" y1="340.04" x2="731.50" y2="340.04" stroke="#333" stroke-width="1.3" />
<text x="720.32" y="343.69" font-size="10.5" textLength="4.88" lengthAdjust="spacingAndGlyphs" fill="#262626" stroke="#262626" stroke-width="0.55" >1</text>
<line x1="727.30" y1="320.60" x2="731.50" y2="320.60" stroke="#333" stroke-width="1.3" />
<text x="707.95" y="324.25" font-size="10.5" textLength="17.25" lengthAdjust="spacingAndGlyphs" fill="#262626" stroke="#262626" stroke-width="0.55" >1.25</text>
<line x1="727.30" y1="301.16" x2="731.50" y2="301.16" stroke="#333" stroke-width="1.3" />
<text x="712.82" y="304.81" font-size="10.5" textLength="12.38" lengthAdjust="spacingAndGlyphs" fill="#262626" stroke="#262626" stroke-width="0.55" >1.5</text>
<line x1="727.30" y1="281.72" x2="731.50" y2="281.72" stroke="#333" stroke-width="1.3" />
<text x="707.95" y="285.37" font-size="10.5" textLength="17.25" lengthAdjust="spacingAndGlyphs" fill="#262626" stroke="#262626" stroke-width="0.55" >1.75</text>
<line x1="727.30" y1="262.28" x2="731.50" y2="262.28" stroke="#333" stroke-width="1.3" />
<text x="720.32" y="265.93" font-size="10.5" textLength="4.88" lengthAdjust="spacingAndGlyphs" fill="#262626" stroke="#262626" stroke-width="0.55" >2</text>
<line x1="732.90" y1="420.40" x2="732.90" y2="424.20" stroke="#333" stroke-width="1.3" />
<text x="730.46" y="434.40" font-size="10.5" textLength="4.88" lengthAdjust="spacingAndGlyphs" fill="#262626" stroke="#262626" stroke-width="0.55" >0</text>
<line x1="751.70" y1="420.40" x2="751.70" y2="424.20" stroke="#333" stroke-width="1.3" />
<text x="749.26" y="434.40" font-size="10.5" textLength="4.88" lengthAdjust="spacingAndGlyphs" fill="#262626" stroke="#262626" stroke-width="0.55" >5</text>
<line x1="770.50" y1="420.40" x2="770.50" y2="424.20" stroke="#333" stroke-width="1.3" />
<text x="765.62" y="434.40" font-size="10.5" textLength="9.75" lengthAdjust="spacingAndGlyphs" fill="#262626" stroke="#262626" stroke-width="0.55" >10</text>
<line x1="789.30" y1="420.40" x2="789.30" y2="424.20" stroke="#333" stroke-width="1.3" />
<text x="784.42" y="434.40" font-size="10.5" textLength="9.75" lengthAdjust="spacingAndGlyphs" fill="#262626" stroke="#262626" stroke-width="0.55" >15</text>
<line x1="808.10" y1="420.40" x2="808.10" y2="424.20" stroke="#333" stroke-width="1.3" />
<text x="803.22" y="434.40" font-size="10.5" textLength="9.75" lengthAdjust="spacingAndGlyphs" fill="#262626" stroke="#262626" stroke-width="0.55" >20</text>
<line x1="826.90" y1="420.40" x2="826.90" y2="424.20" stroke="#333" stroke-width="1.3" />
<text x="822.02" y="434.40" font-size="10.5" textLength="9.75" lengthAdjust="spacingAndGlyphs" fill="#262626" stroke="#262626" stroke-width="0.55" >25</text>
<line x1="845.70" y1="420.40" x2="845.70" y2="424.20" stroke="#333" stroke-width="1.3" />
<text x="840.82" y="434.40" font-size="10.5" textLength="9.75" lengthAdjust="spacingAndGlyphs" fill="#262626" stroke="#262626" stroke-width="0.55" >30</text>
<line x1="864.50" y1="420.40" x2="864.50" y2="424.20" stroke="#333" stroke-width="1.3" />
<text x="859.62" y="434.40" font-size="10.5" textLength="9.75" lengthAdjust="spacingAndGlyphs" fill="#262626" stroke="#262626" stroke-width="0.55" >35</text>
<line x1="883.30" y1="420.40" x2="883.30" y2="424.20" stroke="#333" stroke-width="1.3" />
<text x="878.42" y="434.40" font-size="10.5" textLength="9.75" lengthAdjust="spacingAndGlyphs" fill="#262626" stroke="#262626" stroke-width="0.55" >40</text>
<line x1="902.10" y1="420.40" x2="902.10" y2="424.20" stroke="#333" stroke-width="1.3" />
<text x="897.22" y="434.40" font-size="10.5" textLength="9.75" lengthAdjust="spacingAndGlyphs" fill="#262626" stroke="#262626" stroke-width="0.55" >45</text>
<line x1="920.90" y1="420.40" x2="920.90" y2="424.20" stroke="#333" stroke-width="1.3" />
<text x="916.02" y="434.40" font-size="10.5" textLength="9.75" lengthAdjust="spacingAndGlyphs" fill="#262626" stroke="#262626" stroke-width="0.55" >50</text>
<line x1="939.70" y1="420.40" x2="939.70" y2="424.20" stroke="#333" stroke-width="1.3" />
<text x="934.82" y="434.40" font-size="10.5" textLength="9.75" lengthAdjust="spacingAndGlyphs" fill="#262626" stroke="#262626" stroke-width="0.55" >55</text>
<line x1="958.50" y1="420.40" x2="958.50" y2="424.20" stroke="#333" stroke-width="1.3" />
<text x="953.62" y="434.40" font-size="10.5" textLength="9.75" lengthAdjust="spacingAndGlyphs" fill="#262626" stroke="#262626" stroke-width="0.55" >60</text>
<text x="833.80" y="447.60" font-size="10.5" textLength="24.20" lengthAdjust="spacingAndGlyphs" fill="#262626" stroke="#262626" stroke-width="0.55" >Order</text>
<g transform="translate(698.40,340.80) rotate(-90)">
<text x="-23.00" y="3.30" font-size="10.5" textLength="46.00" lengthAdjust="spacingAndGlyphs" fill="#262626" stroke="#262626" stroke-width="0.55" >Amplitude</text>
</g>
<rect x="982.80" y="261.80" width="90.80" height="128.20" rx="3" fill="none" stroke="rgba(0,0,0,0.18)" stroke-width="1.6" />
<rect x="981.60" y="260.60" width="90.80" height="128.20" rx="3" fill="#efefef" stroke="#444444" stroke-width="1.6" />
<rect x="985.60" y="264.60" width="82.00" height="119.20" rx="1" fill="#ededed" stroke="#c2c2c2" stroke-width="1.2" />
<rect x="986.80" y="265.80" width="79.60" height="116.80" rx="1" fill="none" stroke="#fafafa" stroke-width="1.0" />
<defs><linearGradient id="gl" x1="0" y1="0" x2="0" y2="1"><stop offset="0" stop-color="#e2e2e2"/><stop offset="0.5" stop-color="#dcdcdc"/><stop offset="0.52" stop-color="#d0d0d0"/><stop offset="1" stop-color="#cccccc"/></linearGradient><linearGradient id="gd" x1="0" y1="0" x2="0" y2="1"><stop offset="0" stop-color="#a4a4a4"/><stop offset="0.5" stop-color="#9c9c9c"/><stop offset="0.52" stop-color="#8c8c8c"/><stop offset="1" stop-color="#868686"/></linearGradient></defs>
<rect x="988.40" y="266.80" width="75.20" height="23.40" rx="3" fill="#f7f7f7" />
<rect x="989.20" y="267.60" width="73.60" height="21.80" rx="2.5" fill="url(#gl)" stroke="#a4a4a4" stroke-width="1.0" />
<text x="1013.85" y="281.80" font-size="10.5" textLength="24.30" lengthAdjust="spacingAndGlyphs" fill="#2a2a2a" stroke="#2a2a2a" stroke-width="0.55" >BPFO</text>
<rect x="988.40" y="296.40" width="75.20" height="23.40" rx="3" fill="#f7f7f7" />
<rect x="989.20" y="297.20" width="73.60" height="21.80" rx="2.5" fill="url(#gd)" stroke="#747474" stroke-width="1.0" />
<text x="1016.08" y="311.40" font-size="10.5" textLength="19.84" lengthAdjust="spacingAndGlyphs" fill="#2a2a2a" stroke="#2a2a2a" stroke-width="0.55" >BPFI</text>
<rect x="988.40" y="326.00" width="75.20" height="23.40" rx="3" fill="#f7f7f7" />
<rect x="989.20" y="326.80" width="73.60" height="21.80" rx="2.5" fill="url(#gd)" stroke="#747474" stroke-width="1.0" />
<text x="1017.32" y="341.00" font-size="10.5" textLength="17.36" lengthAdjust="spacingAndGlyphs" fill="#2a2a2a" stroke="#2a2a2a" stroke-width="0.55" >BFS</text>
<rect x="988.40" y="355.60" width="75.20" height="23.40" rx="3" fill="#f7f7f7" />
<rect x="989.20" y="356.40" width="73.60" height="21.80" rx="2.5" fill="url(#gd)" stroke="#747474" stroke-width="1.0" />
<text x="1020.05" y="370.60" font-size="10.5" textLength="11.90" lengthAdjust="spacingAndGlyphs" fill="#2a2a2a" stroke="#2a2a2a" stroke-width="0.55" >CF</text>
<rect x="1076.00" y="0.00" width="4.00" height="465.00" rx="0" fill="#f7f7f7" />
</svg>
</body></html>
